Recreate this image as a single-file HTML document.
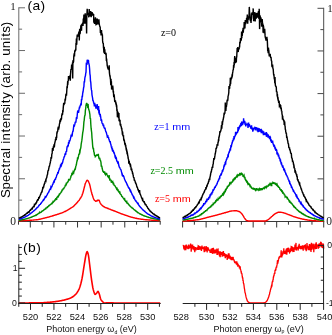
<!DOCTYPE html>
<html>
<head>
<meta charset="utf-8">
<title>Spectral intensity</title>
<style>
html,body{margin:0;padding:0;background:#fff;}
body{width:332px;height:335px;overflow:hidden;font-family:"Liberation Sans",sans-serif;}
svg{display:block;will-change:transform;}
text{white-space:pre;}
</style>
</head>
<body>
<svg width="332" height="335" viewBox="0 0 332 335">
<rect width="332" height="335" fill="#fff"/>
<g id="axes-a">
<line x1="18.80" y1="7.30" x2="18.80" y2="222.00" stroke="#6a6a6a" stroke-width="1"/>
<line x1="323.70" y1="7.80" x2="323.70" y2="222.00" stroke="#4a4a4a" stroke-width="1"/>
<line x1="18.80" y1="221.50" x2="25.00" y2="221.50" stroke="#6a6a6a" stroke-width="1"/>
<line x1="323.70" y1="221.50" x2="317.50" y2="221.50" stroke="#4a4a4a" stroke-width="1"/>
<line x1="18.80" y1="200.13" x2="22.10" y2="200.13" stroke="#6a6a6a" stroke-width="1"/>
<line x1="323.70" y1="200.18" x2="320.40" y2="200.18" stroke="#4a4a4a" stroke-width="1"/>
<line x1="18.80" y1="178.76" x2="25.00" y2="178.76" stroke="#6a6a6a" stroke-width="1"/>
<line x1="323.70" y1="178.86" x2="317.50" y2="178.86" stroke="#4a4a4a" stroke-width="1"/>
<line x1="18.80" y1="157.39" x2="22.10" y2="157.39" stroke="#6a6a6a" stroke-width="1"/>
<line x1="323.70" y1="157.54" x2="320.40" y2="157.54" stroke="#4a4a4a" stroke-width="1"/>
<line x1="18.80" y1="136.02" x2="25.00" y2="136.02" stroke="#6a6a6a" stroke-width="1"/>
<line x1="323.70" y1="136.22" x2="317.50" y2="136.22" stroke="#4a4a4a" stroke-width="1"/>
<line x1="18.80" y1="114.65" x2="22.10" y2="114.65" stroke="#6a6a6a" stroke-width="1"/>
<line x1="323.70" y1="114.90" x2="320.40" y2="114.90" stroke="#4a4a4a" stroke-width="1"/>
<line x1="18.80" y1="93.28" x2="25.00" y2="93.28" stroke="#6a6a6a" stroke-width="1"/>
<line x1="323.70" y1="93.58" x2="317.50" y2="93.58" stroke="#4a4a4a" stroke-width="1"/>
<line x1="18.80" y1="71.91" x2="22.10" y2="71.91" stroke="#6a6a6a" stroke-width="1"/>
<line x1="323.70" y1="72.26" x2="320.40" y2="72.26" stroke="#4a4a4a" stroke-width="1"/>
<line x1="18.80" y1="50.54" x2="25.00" y2="50.54" stroke="#6a6a6a" stroke-width="1"/>
<line x1="323.70" y1="50.94" x2="317.50" y2="50.94" stroke="#4a4a4a" stroke-width="1"/>
<line x1="18.80" y1="29.17" x2="22.10" y2="29.17" stroke="#6a6a6a" stroke-width="1"/>
<line x1="323.70" y1="29.62" x2="320.40" y2="29.62" stroke="#4a4a4a" stroke-width="1"/>
<line x1="18.80" y1="7.80" x2="25.00" y2="7.80" stroke="#6a6a6a" stroke-width="1"/>
<line x1="323.70" y1="8.30" x2="317.50" y2="8.30" stroke="#4a4a4a" stroke-width="1"/>
<line x1="18.30" y1="221.50" x2="160.70" y2="221.50" stroke="#3a3a3a" stroke-width="1"/>
<line x1="182.10" y1="221.50" x2="324.20" y2="221.50" stroke="#3a3a3a" stroke-width="1"/>
<line x1="18.49" y1="221.50" x2="18.49" y2="224.70" stroke="#333" stroke-width="1"/>
<line x1="30.30" y1="221.50" x2="30.30" y2="227.50" stroke="#333" stroke-width="1"/>
<line x1="42.11" y1="221.50" x2="42.11" y2="224.70" stroke="#333" stroke-width="1"/>
<line x1="53.92" y1="221.50" x2="53.92" y2="227.50" stroke="#333" stroke-width="1"/>
<line x1="65.73" y1="221.50" x2="65.73" y2="224.70" stroke="#333" stroke-width="1"/>
<line x1="77.54" y1="221.50" x2="77.54" y2="227.50" stroke="#333" stroke-width="1"/>
<line x1="89.35" y1="221.50" x2="89.35" y2="224.70" stroke="#333" stroke-width="1"/>
<line x1="101.16" y1="221.50" x2="101.16" y2="227.50" stroke="#333" stroke-width="1"/>
<line x1="112.97" y1="221.50" x2="112.97" y2="224.70" stroke="#333" stroke-width="1"/>
<line x1="124.78" y1="221.50" x2="124.78" y2="227.50" stroke="#333" stroke-width="1"/>
<line x1="136.59" y1="221.50" x2="136.59" y2="224.70" stroke="#333" stroke-width="1"/>
<line x1="148.40" y1="221.50" x2="148.40" y2="227.50" stroke="#333" stroke-width="1"/>
<line x1="160.21" y1="221.50" x2="160.21" y2="224.70" stroke="#333" stroke-width="1"/>
<line x1="182.60" y1="221.50" x2="182.60" y2="227.50" stroke="#333" stroke-width="1"/>
<line x1="194.36" y1="221.50" x2="194.36" y2="224.70" stroke="#333" stroke-width="1"/>
<line x1="206.12" y1="221.50" x2="206.12" y2="227.50" stroke="#333" stroke-width="1"/>
<line x1="217.88" y1="221.50" x2="217.88" y2="224.70" stroke="#333" stroke-width="1"/>
<line x1="229.64" y1="221.50" x2="229.64" y2="227.50" stroke="#333" stroke-width="1"/>
<line x1="241.40" y1="221.50" x2="241.40" y2="224.70" stroke="#333" stroke-width="1"/>
<line x1="253.16" y1="221.50" x2="253.16" y2="227.50" stroke="#333" stroke-width="1"/>
<line x1="264.92" y1="221.50" x2="264.92" y2="224.70" stroke="#333" stroke-width="1"/>
<line x1="276.68" y1="221.50" x2="276.68" y2="227.50" stroke="#333" stroke-width="1"/>
<line x1="288.44" y1="221.50" x2="288.44" y2="224.70" stroke="#333" stroke-width="1"/>
<line x1="300.20" y1="221.50" x2="300.20" y2="227.50" stroke="#333" stroke-width="1"/>
<line x1="311.96" y1="221.50" x2="311.96" y2="224.70" stroke="#333" stroke-width="1"/>
<line x1="323.72" y1="221.50" x2="323.72" y2="227.50" stroke="#333" stroke-width="1"/>
</g>
<g id="curves-a">
<path d="M18.8,220.7 L19.2,220.7 L19.6,220.7 L20.0,220.7 L20.4,220.7 L20.8,220.7 L21.2,220.7 L21.6,220.7 L22.0,220.7 L22.4,220.6 L22.8,220.6 L23.2,220.6 L23.6,220.6 L24.0,220.6 L24.4,220.6 L24.8,220.6 L25.2,220.6 L25.6,220.5 L26.0,220.5 L26.4,220.5 L26.8,220.5 L27.2,220.4 L27.6,220.4 L28.0,220.4 L28.4,220.4 L28.8,220.4 L29.2,220.3 L29.6,220.3 L30.0,220.3 L30.4,220.3 L30.8,220.2 L31.2,220.2 L31.6,220.2 L32.0,220.1 L32.4,220.1 L32.8,220.1 L33.2,220.1 L33.6,220.0 L34.0,220.0 L34.4,219.9 L34.8,219.9 L35.2,219.9 L35.6,219.9 L36.0,219.8 L36.4,219.8 L36.8,219.7 L37.2,219.7 L37.6,219.6 L38.0,219.6 L38.4,219.5 L38.8,219.4 L39.2,219.3 L39.6,219.3 L40.0,219.2 L40.4,219.1 L40.8,219.0 L41.2,218.9 L41.6,218.8 L42.0,218.6 L42.4,218.6 L42.8,218.5 L43.2,218.4 L43.6,218.3 L44.0,218.2 L44.4,218.1 L44.8,218.0 L45.2,217.9 L45.6,217.8 L46.0,217.7 L46.4,217.6 L46.8,217.5 L47.2,217.4 L47.6,217.3 L48.0,217.2 L48.4,217.1 L48.8,217.0 L49.2,216.8 L49.6,216.7 L50.0,216.6 L50.4,216.5 L50.8,216.4 L51.2,216.3 L51.6,216.1 L52.0,216.1 L52.4,216.0 L52.8,215.7 L53.2,215.7 L53.6,215.5 L54.0,215.4 L54.4,215.4 L54.8,215.3 L55.2,215.0 L55.6,214.9 L56.0,214.8 L56.4,214.8 L56.8,214.6 L57.2,214.4 L57.6,214.3 L58.0,214.2 L58.4,214.1 L58.8,213.9 L59.2,213.8 L59.6,213.7 L60.0,213.5 L60.4,213.4 L60.8,213.2 L61.2,213.1 L61.6,213.0 L62.0,212.8 L62.4,212.6 L62.8,212.5 L63.2,212.3 L63.6,212.2 L64.0,212.0 L64.4,211.7 L64.8,211.5 L65.2,211.5 L65.6,211.4 L66.0,210.9 L66.4,210.8 L66.8,210.6 L67.2,210.3 L67.6,210.1 L68.0,209.9 L68.4,209.7 L68.8,209.5 L69.2,209.2 L69.6,209.0 L70.0,208.7 L70.4,208.5 L70.8,208.0 L71.2,207.8 L71.6,207.7 L72.0,207.3 L72.4,207.1 L72.8,206.8 L73.2,206.6 L73.6,206.2 L74.0,205.9 L74.4,205.4 L74.8,205.0 L75.2,204.6 L75.6,204.2 L76.0,203.7 L76.4,203.4 L76.8,203.0 L77.2,202.6 L77.6,202.0 L78.0,201.4 L78.4,201.1 L78.8,200.6 L79.2,200.2 L79.6,199.5 L80.0,198.8 L80.4,198.1 L80.8,197.8 L81.2,196.9 L81.6,196.3 L82.0,195.5 L82.4,194.1 L82.8,193.2 L83.2,191.8 L83.6,190.3 L84.0,188.7 L84.4,187.0 L84.8,185.5 L85.2,183.8 L85.6,183.0 L86.0,182.0 L86.4,181.3 L86.8,180.5 L87.2,180.3 L87.6,180.4 L88.0,180.7 L88.4,181.4 L88.8,182.3 L89.2,183.1 L89.6,184.3 L90.0,185.7 L90.4,187.6 L90.8,189.3 L91.2,191.2 L91.6,192.5 L92.0,194.3 L92.4,195.3 L92.8,196.5 L93.2,197.8 L93.6,198.8 L94.0,199.7 L94.4,200.2 L94.8,200.5 L95.2,200.8 L95.6,201.2 L96.0,201.2 L96.4,201.0 L96.8,200.9 L97.2,200.4 L97.6,200.6 L98.0,200.1 L98.4,200.3 L98.8,200.3 L99.2,200.4 L99.6,201.4 L100.0,202.5 L100.4,203.3 L100.8,203.9 L101.2,204.5 L101.6,204.8 L102.0,205.3 L102.4,205.6 L102.8,206.0 L103.2,206.1 L103.6,206.6 L104.0,206.7 L104.4,206.9 L104.8,207.2 L105.2,207.5 L105.6,207.6 L106.0,207.7 L106.4,207.9 L106.8,208.0 L107.2,208.2 L107.6,208.4 L108.0,208.3 L108.4,208.7 L108.8,208.8 L109.2,209.0 L109.6,209.1 L110.0,209.2 L110.4,209.4 L110.8,209.7 L111.2,209.9 L111.6,210.0 L112.0,210.2 L112.4,210.3 L112.8,210.3 L113.2,210.6 L113.6,210.8 L114.0,210.8 L114.4,211.0 L114.8,211.2 L115.2,211.3 L115.6,211.4 L116.0,211.6 L116.4,211.8 L116.8,211.9 L117.2,212.1 L117.6,212.3 L118.0,212.4 L118.4,212.6 L118.8,212.7 L119.2,212.9 L119.6,213.1 L120.0,213.1 L120.4,213.4 L120.8,213.6 L121.2,213.7 L121.6,213.8 L122.0,214.0 L122.4,214.2 L122.8,214.3 L123.2,214.4 L123.6,214.6 L124.0,214.6 L124.4,214.9 L124.8,215.0 L125.2,215.1 L125.6,215.3 L126.0,215.4 L126.4,215.5 L126.8,215.7 L127.2,215.8 L127.6,215.9 L128.0,216.1 L128.4,216.2 L128.8,216.4 L129.2,216.5 L129.6,216.6 L130.0,216.7 L130.4,216.8 L130.8,217.0 L131.2,217.1 L131.6,217.2 L132.0,217.3 L132.4,217.4 L132.8,217.5 L133.2,217.6 L133.6,217.7 L134.0,217.8 L134.4,217.9 L134.8,218.0 L135.2,218.1 L135.6,218.2 L136.0,218.3 L136.4,218.3 L136.8,218.5 L137.2,218.5 L137.6,218.6 L138.0,218.7 L138.4,218.7 L138.8,218.8 L139.2,218.9 L139.6,218.9 L140.0,219.1 L140.4,219.0 L140.8,219.1 L141.2,219.2 L141.6,219.2 L142.0,219.3 L142.4,219.3 L142.8,219.4 L143.2,219.4 L143.6,219.5 L144.0,219.5 L144.4,219.6 L144.8,219.6 L145.2,219.6 L145.6,219.7 L146.0,219.7 L146.4,219.8 L146.8,219.8 L147.2,219.8 L147.6,219.9 L148.0,219.9 L148.4,219.9 L148.8,220.0 L149.2,220.0 L149.6,220.0 L150.0,220.0 L150.4,220.1 L150.8,220.1 L151.2,220.1 L151.6,220.2 L152.0,220.2 L152.4,220.2 L152.8,220.2 L153.2,220.3 L153.6,220.3 L154.0,220.3 L154.4,220.3 L154.8,220.4 L155.2,220.4 L155.6,220.4 L156.0,220.4 L156.4,220.4 L156.8,220.5 L157.2,220.5 L157.6,220.5 L158.0,220.5 L158.4,220.5 L158.8,220.6 L159.2,220.6 L159.6,220.6 L160.0,220.6 L160.2,220.6" fill="none" stroke="#ff0000" stroke-width="1.42" stroke-linejoin="miter" stroke-miterlimit="3" stroke-linecap="butt" />
<path d="M18.8,220.3 L19.1,220.3 L19.4,220.2 L19.7,220.2 L20.0,220.2 L20.3,220.1 L20.6,220.0 L20.9,220.0 L21.2,219.9 L21.5,219.9 L21.8,219.8 L22.1,219.8 L22.4,219.7 L22.7,219.6 L23.0,219.6 L23.3,219.6 L23.6,219.5 L23.9,219.4 L24.2,219.3 L24.5,219.3 L24.8,219.2 L25.1,219.1 L25.4,219.0 L25.7,218.9 L26.0,218.9 L26.3,218.8 L26.6,218.7 L26.9,218.6 L27.2,218.6 L27.5,218.4 L27.8,218.4 L28.1,218.3 L28.4,218.2 L28.7,218.1 L29.0,218.0 L29.3,217.9 L29.6,217.8 L29.9,217.7 L30.2,217.6 L30.5,217.6 L30.8,217.4 L31.1,217.2 L31.4,217.2 L31.7,217.0 L32.0,216.9 L32.3,216.8 L32.6,216.6 L32.9,216.4 L33.2,216.4 L33.5,216.3 L33.8,216.1 L34.1,216.0 L34.4,215.9 L34.7,215.6 L35.0,215.6 L35.3,215.5 L35.6,215.3 L35.9,215.4 L36.2,215.0 L36.5,215.0 L36.8,214.6 L37.1,214.5 L37.4,214.4 L37.7,214.0 L38.0,213.8 L38.3,213.7 L38.6,213.6 L38.9,213.4 L39.2,213.0 L39.5,212.4 L39.8,212.8 L40.1,212.7 L40.4,212.5 L40.7,212.4 L41.0,212.3 L41.3,211.9 L41.6,211.7 L41.9,211.3 L42.2,211.0 L42.5,211.0 L42.8,210.8 L43.1,210.6 L43.4,210.4 L43.7,210.2 L44.0,210.0 L44.3,209.4 L44.6,209.3 L44.9,209.2 L45.2,209.1 L45.5,208.5 L45.8,208.7 L46.1,208.1 L46.4,207.9 L46.7,207.8 L47.0,207.6 L47.3,207.0 L47.6,207.2 L47.9,206.8 L48.2,206.4 L48.5,206.2 L48.8,205.6 L49.1,205.7 L49.4,205.6 L49.7,205.1 L50.0,205.0 L50.3,204.7 L50.6,204.5 L50.9,204.4 L51.2,203.9 L51.5,203.6 L51.8,203.4 L52.1,203.5 L52.4,202.7 L52.7,202.5 L53.0,201.7 L53.3,202.1 L53.6,201.7 L53.9,201.5 L54.2,200.9 L54.5,200.4 L54.8,200.6 L55.1,200.2 L55.4,199.4 L55.7,198.9 L56.0,199.0 L56.3,198.5 L56.6,200.0 L56.9,197.6 L57.2,197.3 L57.5,197.1 L57.8,196.3 L58.1,196.1 L58.4,196.5 L58.7,195.5 L59.0,194.9 L59.3,194.2 L59.6,194.5 L59.9,194.0 L60.2,193.5 L60.5,193.0 L60.8,192.7 L61.1,192.3 L61.4,191.6 L61.7,191.6 L62.0,190.1 L62.3,190.0 L62.6,190.0 L62.9,189.5 L63.2,188.7 L63.5,188.7 L63.8,188.6 L64.1,187.8 L64.4,187.2 L64.7,187.0 L65.0,186.5 L65.3,185.3 L65.6,185.1 L65.9,185.2 L66.2,183.7 L66.5,183.9 L66.8,183.2 L67.1,182.6 L67.4,182.2 L67.7,182.2 L68.0,181.7 L68.3,181.2 L68.6,179.7 L68.9,179.9 L69.2,179.9 L69.5,179.7 L69.8,180.5 L70.1,178.8 L70.4,178.2 L70.7,177.5 L71.0,176.0 L71.3,175.8 L71.6,174.9 L71.9,173.4 L72.2,173.3 L72.5,175.1 L72.8,172.9 L73.1,171.8 L73.4,172.3 L73.7,172.7 L74.0,171.2 L74.3,170.9 L74.6,169.8 L74.9,169.2 L75.2,169.3 L75.5,168.0 L75.8,166.1 L76.1,165.5 L76.4,164.5 L76.7,162.3 L77.0,161.3 L77.3,160.3 L77.6,157.4 L77.9,159.4 L78.2,157.7 L78.5,156.3 L78.8,154.5 L79.1,153.7 L79.4,154.7 L79.7,151.2 L80.0,151.6 L80.3,149.4 L80.6,148.6 L80.9,147.1 L81.2,144.0 L81.5,142.3 L81.8,140.7 L82.1,138.4 L82.4,135.7 L82.7,132.9 L83.0,131.3 L83.3,129.5 L83.6,126.1 L83.9,121.9 L84.2,120.3 L84.5,117.2 L84.8,115.5 L85.1,115.1 L85.4,110.2 L85.7,108.6 L86.0,105.2 L86.3,104.1 L86.6,102.9 L86.9,105.8 L87.2,104.3 L87.5,103.6 L87.8,108.0 L88.1,104.1 L88.4,108.2 L88.7,109.2 L89.0,110.2 L89.3,110.8 L89.6,112.8 L89.9,114.5 L90.2,119.0 L90.5,118.3 L90.8,124.2 L91.1,128.2 L91.4,130.7 L91.7,132.7 L92.0,138.0 L92.3,140.6 L92.6,145.0 L92.9,147.8 L93.2,148.8 L93.5,148.8 L93.8,151.7 L94.1,152.3 L94.4,154.6 L94.7,155.8 L95.0,155.1 L95.3,156.7 L95.6,156.5 L95.9,156.0 L96.2,154.9 L96.5,155.6 L96.8,154.3 L97.1,155.9 L97.4,154.6 L97.7,155.8 L98.0,155.1 L98.3,153.8 L98.6,156.7 L98.9,157.9 L99.2,159.1 L99.5,157.7 L99.8,158.5 L100.1,160.2 L100.4,160.3 L100.7,161.2 L101.0,162.7 L101.3,166.6 L101.6,165.6 L101.9,166.7 L102.2,168.5 L102.5,169.6 L102.8,171.1 L103.1,171.4 L103.4,171.9 L103.7,171.7 L104.0,172.3 L104.3,172.3 L104.6,172.1 L104.9,174.4 L105.2,173.4 L105.5,174.4 L105.8,173.7 L106.1,174.1 L106.4,174.2 L106.7,173.8 L107.0,174.6 L107.3,175.2 L107.6,176.1 L107.9,176.5 L108.2,177.1 L108.5,177.3 L108.8,177.7 L109.1,175.0 L109.4,177.9 L109.7,179.5 L110.0,179.1 L110.3,179.9 L110.6,179.9 L110.9,180.0 L111.2,181.6 L111.5,181.3 L111.8,182.1 L112.1,182.0 L112.4,182.1 L112.7,181.7 L113.0,183.2 L113.3,182.9 L113.6,183.1 L113.9,185.0 L114.2,185.1 L114.5,185.5 L114.8,185.6 L115.1,186.0 L115.4,186.7 L115.7,187.1 L116.0,187.5 L116.3,188.2 L116.6,187.3 L116.9,189.1 L117.2,188.8 L117.5,189.9 L117.8,190.4 L118.1,190.1 L118.4,191.3 L118.7,191.8 L119.0,191.6 L119.3,192.1 L119.6,192.8 L119.9,192.4 L120.2,193.4 L120.5,194.2 L120.8,194.4 L121.1,194.6 L121.4,195.3 L121.7,196.3 L122.0,196.6 L122.3,196.6 L122.6,196.9 L122.9,197.6 L123.2,198.0 L123.5,198.2 L123.8,198.7 L124.1,199.3 L124.4,199.7 L124.7,199.2 L125.0,200.5 L125.3,200.7 L125.6,201.3 L125.9,201.4 L126.2,201.9 L126.5,202.4 L126.8,201.8 L127.1,203.1 L127.4,203.2 L127.7,203.2 L128.0,203.3 L128.3,204.2 L128.6,204.3 L128.9,204.9 L129.2,205.1 L129.5,205.3 L129.8,205.9 L130.1,206.0 L130.4,206.5 L130.7,206.8 L131.0,207.0 L131.3,207.3 L131.6,207.6 L131.9,207.5 L132.2,208.0 L132.5,208.3 L132.8,208.5 L133.1,208.5 L133.4,208.9 L133.7,209.3 L134.0,209.5 L134.3,209.9 L134.6,209.9 L134.9,210.2 L135.2,210.4 L135.5,210.7 L135.8,211.0 L136.1,211.0 L136.4,211.5 L136.7,211.8 L137.0,212.0 L137.3,212.0 L137.6,212.3 L137.9,212.7 L138.2,212.7 L138.5,212.9 L138.8,213.0 L139.1,213.3 L139.4,213.5 L139.7,213.9 L140.0,213.9 L140.3,214.0 L140.6,214.0 L140.9,214.3 L141.2,214.4 L141.5,214.6 L141.8,214.7 L142.1,215.0 L142.4,215.0 L142.7,215.2 L143.0,215.3 L143.3,215.5 L143.6,215.7 L143.9,215.6 L144.2,215.9 L144.5,215.9 L144.8,216.1 L145.1,216.2 L145.4,216.2 L145.7,216.4 L146.0,216.4 L146.3,216.5 L146.6,216.6 L146.9,216.9 L147.2,216.9 L147.5,217.0 L147.8,217.1 L148.1,217.1 L148.4,217.3 L148.7,217.3 L149.0,217.5 L149.3,217.6 L149.6,217.6 L149.9,217.7 L150.2,217.8 L150.5,218.0 L150.8,217.9 L151.1,218.0 L151.4,218.1 L151.7,218.2 L152.0,218.2 L152.3,218.3 L152.6,218.3 L152.9,218.4 L153.2,218.5 L153.5,218.5 L153.8,218.6 L154.1,218.7 L154.4,218.8 L154.7,218.9 L155.0,218.9 L155.3,219.0 L155.6,219.0 L155.9,219.1 L156.2,219.1 L156.5,219.2 L156.8,219.3 L157.1,219.3 L157.4,219.4 L157.7,219.4 L158.0,219.5 L158.3,219.6 L158.6,219.6 L158.9,219.7 L159.2,219.7 L159.5,219.8 L159.8,219.8 L160.1,219.9 L160.2,219.9" fill="none" stroke="#008a00" stroke-width="1.42" stroke-linejoin="miter" stroke-miterlimit="3" stroke-linecap="butt" />
<path d="M18.8,219.4 L19.1,219.3 L19.4,219.3 L19.7,219.2 L20.0,219.1 L20.3,219.0 L20.6,218.9 L20.9,218.7 L21.2,218.6 L21.5,218.6 L21.8,218.4 L22.1,218.3 L22.4,218.2 L22.7,218.1 L23.0,217.9 L23.3,217.7 L23.6,217.6 L23.9,217.4 L24.2,217.4 L24.5,217.2 L24.8,217.1 L25.1,216.9 L25.4,216.8 L25.7,216.7 L26.0,216.5 L26.3,216.4 L26.6,216.1 L26.9,216.0 L27.2,215.7 L27.5,215.7 L27.8,215.5 L28.1,215.3 L28.4,215.1 L28.7,214.8 L29.0,214.7 L29.3,214.5 L29.6,214.3 L29.9,214.0 L30.2,213.8 L30.5,213.6 L30.8,213.2 L31.1,213.1 L31.4,212.8 L31.7,212.7 L32.0,212.4 L32.3,212.2 L32.6,211.9 L32.9,211.5 L33.2,211.4 L33.5,211.2 L33.8,210.8 L34.1,210.6 L34.4,210.3 L34.7,210.1 L35.0,209.8 L35.3,209.6 L35.6,209.2 L35.9,209.1 L36.2,208.6 L36.5,208.3 L36.8,207.9 L37.1,207.8 L37.4,207.3 L37.7,207.0 L38.0,206.9 L38.3,206.9 L38.6,206.2 L38.9,205.4 L39.2,205.3 L39.5,204.9 L39.8,204.5 L40.1,204.4 L40.4,204.4 L40.7,203.6 L41.0,203.2 L41.3,203.1 L41.6,202.5 L41.9,202.1 L42.2,201.5 L42.5,201.3 L42.8,201.0 L43.1,200.2 L43.4,199.9 L43.7,200.1 L44.0,199.6 L44.3,198.9 L44.6,198.3 L44.9,198.1 L45.2,196.9 L45.5,197.2 L45.8,197.2 L46.1,196.3 L46.4,196.2 L46.7,195.3 L47.0,195.0 L47.3,194.8 L47.6,193.5 L47.9,193.3 L48.2,192.8 L48.5,192.3 L48.8,192.1 L49.1,191.3 L49.4,190.1 L49.7,189.9 L50.0,189.2 L50.3,188.7 L50.6,189.0 L50.9,187.0 L51.2,187.5 L51.5,186.7 L51.8,186.7 L52.1,185.9 L52.4,185.1 L52.7,184.3 L53.0,184.1 L53.3,182.7 L53.6,182.2 L53.9,181.4 L54.2,181.8 L54.5,180.7 L54.8,179.6 L55.1,179.3 L55.4,179.9 L55.7,178.1 L56.0,177.7 L56.3,176.9 L56.6,175.9 L56.9,174.9 L57.2,174.4 L57.5,173.7 L57.8,172.0 L58.1,173.6 L58.4,172.0 L58.7,170.7 L59.0,169.9 L59.3,168.8 L59.6,168.9 L59.9,167.7 L60.2,167.3 L60.5,165.5 L60.8,165.8 L61.1,166.1 L61.4,164.1 L61.7,164.4 L62.0,163.3 L62.3,163.3 L62.6,162.6 L62.9,161.1 L63.2,159.7 L63.5,159.3 L63.8,158.2 L64.1,156.9 L64.4,156.7 L64.7,155.9 L65.0,154.1 L65.3,153.7 L65.6,155.0 L65.9,152.7 L66.2,151.1 L66.5,152.0 L66.8,149.2 L67.1,146.8 L67.4,146.3 L67.7,145.8 L68.0,146.2 L68.3,145.5 L68.6,142.1 L68.9,143.9 L69.2,141.2 L69.5,141.5 L69.8,140.8 L70.1,140.0 L70.4,138.6 L70.7,137.8 L71.0,135.9 L71.3,136.3 L71.6,135.8 L71.9,134.8 L72.2,135.2 L72.5,132.7 L72.8,131.3 L73.1,131.2 L73.4,128.8 L73.7,126.3 L74.0,124.3 L74.3,126.6 L74.6,124.8 L74.9,124.2 L75.2,122.2 L75.5,122.1 L75.8,122.6 L76.1,120.3 L76.4,117.7 L76.7,117.4 L77.0,117.7 L77.3,114.3 L77.6,111.5 L77.9,111.0 L78.2,111.2 L78.5,112.9 L78.8,111.0 L79.1,109.0 L79.4,107.5 L79.7,107.6 L80.0,106.5 L80.3,105.4 L80.6,105.0 L80.9,103.4 L81.2,105.4 L81.5,99.0 L81.8,100.2 L82.1,96.5 L82.4,96.5 L82.7,93.2 L83.0,92.0 L83.3,90.1 L83.6,87.7 L83.9,86.7 L84.2,81.2 L84.5,82.4 L84.8,78.5 L85.1,76.6 L85.4,76.0 L85.7,73.4 L86.0,72.3 L86.3,63.8 L86.6,64.0 L86.9,64.9 L87.2,59.7 L87.5,60.3 L87.8,63.3 L88.1,62.1 L88.4,59.8 L88.7,62.9 L89.0,64.2 L89.3,65.5 L89.6,68.9 L89.9,73.8 L90.2,75.6 L90.5,81.2 L90.8,82.5 L91.1,87.3 L91.4,89.9 L91.7,90.7 L92.0,94.8 L92.3,96.5 L92.6,98.1 L92.9,100.5 L93.2,100.7 L93.5,102.0 L93.8,103.3 L94.1,103.9 L94.4,106.3 L94.7,102.9 L95.0,105.9 L95.3,104.6 L95.6,106.7 L95.9,107.8 L96.2,107.5 L96.5,108.6 L96.8,107.5 L97.1,104.1 L97.4,106.0 L97.7,109.3 L98.0,109.8 L98.3,110.0 L98.6,106.1 L98.9,113.5 L99.2,109.9 L99.5,114.9 L99.8,114.0 L100.1,115.6 L100.4,115.2 L100.7,117.0 L101.0,119.8 L101.3,119.6 L101.6,119.8 L101.9,122.4 L102.2,123.3 L102.5,123.7 L102.8,123.7 L103.1,125.6 L103.4,125.6 L103.7,125.5 L104.0,127.5 L104.3,127.9 L104.6,128.8 L104.9,127.6 L105.2,129.1 L105.5,130.6 L105.8,131.6 L106.1,131.9 L106.4,132.8 L106.7,134.1 L107.0,135.1 L107.3,136.8 L107.6,136.4 L107.9,136.1 L108.2,137.8 L108.5,137.0 L108.8,139.2 L109.1,139.4 L109.4,140.7 L109.7,141.7 L110.0,142.1 L110.3,141.9 L110.6,143.9 L110.9,144.4 L111.2,146.2 L111.5,147.4 L111.8,147.2 L112.1,149.2 L112.4,150.4 L112.7,149.9 L113.0,151.2 L113.3,150.3 L113.6,151.6 L113.9,153.3 L114.2,152.4 L114.5,154.2 L114.8,154.8 L115.1,157.0 L115.4,157.7 L115.7,157.1 L116.0,158.2 L116.3,157.3 L116.6,160.3 L116.9,160.9 L117.2,162.1 L117.5,160.8 L117.8,163.2 L118.1,163.5 L118.4,163.0 L118.7,165.0 L119.0,166.0 L119.3,167.2 L119.6,167.5 L119.9,167.7 L120.2,168.8 L120.5,169.1 L120.8,169.5 L121.1,170.2 L121.4,171.6 L121.7,172.5 L122.0,174.0 L122.3,173.5 L122.6,176.4 L122.9,175.2 L123.2,176.1 L123.5,176.0 L123.8,176.6 L124.1,177.6 L124.4,178.8 L124.7,179.3 L125.0,180.1 L125.3,180.7 L125.6,181.6 L125.9,181.9 L126.2,182.2 L126.5,183.2 L126.8,183.6 L127.1,184.9 L127.4,184.9 L127.7,185.6 L128.0,186.2 L128.3,187.3 L128.6,187.7 L128.9,188.2 L129.2,188.1 L129.5,188.6 L129.8,189.8 L130.1,190.5 L130.4,191.3 L130.7,190.9 L131.0,191.9 L131.3,192.1 L131.6,193.0 L131.9,193.7 L132.2,194.7 L132.5,194.9 L132.8,195.4 L133.1,196.0 L133.4,197.0 L133.7,197.8 L134.0,197.4 L134.3,198.3 L134.6,198.8 L134.9,199.6 L135.2,200.0 L135.5,200.7 L135.8,200.7 L136.1,201.3 L136.4,201.7 L136.7,202.0 L137.0,202.6 L137.3,202.8 L137.6,203.8 L137.9,203.9 L138.2,203.6 L138.5,204.5 L138.8,205.3 L139.1,205.4 L139.4,206.0 L139.7,206.3 L140.0,206.8 L140.3,207.1 L140.6,207.4 L140.9,207.7 L141.2,207.9 L141.5,208.4 L141.8,208.7 L142.1,208.9 L142.4,209.3 L142.7,209.5 L143.0,210.1 L143.3,210.1 L143.6,210.3 L143.9,210.6 L144.2,211.0 L144.5,211.3 L144.8,211.3 L145.1,211.8 L145.4,212.0 L145.7,212.2 L146.0,212.6 L146.3,212.8 L146.6,212.9 L146.9,213.2 L147.2,213.5 L147.5,213.9 L147.8,213.9 L148.1,214.0 L148.4,214.3 L148.7,214.4 L149.0,214.5 L149.3,214.7 L149.6,215.0 L149.9,215.1 L150.2,215.4 L150.5,215.4 L150.8,215.7 L151.1,215.8 L151.4,216.0 L151.7,216.1 L152.0,216.2 L152.3,216.4 L152.6,216.5 L152.9,216.7 L153.2,216.9 L153.5,216.9 L153.8,217.0 L154.1,217.2 L154.4,217.4 L154.7,217.5 L155.0,217.5 L155.3,217.6 L155.6,217.7 L155.9,217.8 L156.2,217.9 L156.5,218.0 L156.8,218.1 L157.1,218.2 L157.4,218.3 L157.7,218.5 L158.0,218.5 L158.3,218.6 L158.6,218.6 L158.9,218.7 L159.2,218.8 L159.5,219.0 L159.8,219.0 L160.1,219.0 L160.2,219.0" fill="none" stroke="#0000ff" stroke-width="1.42" stroke-linejoin="miter" stroke-miterlimit="3" stroke-linecap="butt" />
<path d="M18.8,218.3 L19.0,218.2 L19.2,218.1 L19.5,217.9 L19.7,217.9 L19.9,217.9 L20.1,217.7 L20.3,217.6 L20.6,217.6 L20.8,217.3 L21.0,217.4 L21.2,217.2 L21.4,217.1 L21.7,217.1 L21.9,216.8 L22.1,216.7 L22.3,216.5 L22.5,216.4 L22.8,216.1 L23.0,216.1 L23.2,216.1 L23.4,215.9 L23.6,215.7 L23.9,215.6 L24.1,215.5 L24.3,215.3 L24.5,215.2 L24.7,214.9 L25.0,215.1 L25.2,214.6 L25.4,214.6 L25.6,214.3 L25.8,214.0 L26.1,213.9 L26.3,213.7 L26.5,213.6 L26.7,213.4 L26.9,213.3 L27.2,212.9 L27.4,213.0 L27.6,212.6 L27.8,212.7 L28.0,212.5 L28.3,212.1 L28.5,212.2 L28.7,211.9 L28.9,211.8 L29.1,212.1 L29.4,211.3 L29.6,211.1 L29.8,210.5 L30.0,210.4 L30.2,210.2 L30.5,210.2 L30.7,209.7 L30.9,209.7 L31.1,209.5 L31.3,209.0 L31.6,208.8 L31.8,208.8 L32.0,208.2 L32.2,207.9 L32.4,208.4 L32.7,207.7 L32.9,207.4 L33.1,207.1 L33.3,206.7 L33.5,206.5 L33.8,206.2 L34.0,206.0 L34.2,206.2 L34.4,204.8 L34.6,205.0 L34.9,204.8 L35.1,204.2 L35.3,204.2 L35.5,204.0 L35.7,203.3 L36.0,203.5 L36.2,202.9 L36.4,202.9 L36.6,202.5 L36.8,201.8 L37.1,200.3 L37.3,201.1 L37.5,200.4 L37.7,199.1 L37.9,199.8 L38.2,199.9 L38.4,199.1 L38.6,198.6 L38.8,197.1 L39.0,197.7 L39.3,197.1 L39.5,197.3 L39.7,196.4 L39.9,196.0 L40.1,195.5 L40.4,194.8 L40.6,194.6 L40.8,194.0 L41.0,193.1 L41.2,193.0 L41.5,192.5 L41.7,192.4 L41.9,191.4 L42.1,191.4 L42.3,189.9 L42.6,189.4 L42.8,187.1 L43.0,188.7 L43.2,187.3 L43.4,186.8 L43.7,186.9 L43.9,185.5 L44.1,184.6 L44.3,184.6 L44.5,183.4 L44.8,183.4 L45.0,181.9 L45.2,181.7 L45.4,181.3 L45.6,180.5 L45.9,180.9 L46.1,179.1 L46.3,178.4 L46.5,178.1 L46.7,177.8 L47.0,176.1 L47.2,175.0 L47.4,174.6 L47.6,174.1 L47.8,171.9 L48.1,170.6 L48.3,170.6 L48.5,170.3 L48.7,168.7 L48.9,168.1 L49.2,166.0 L49.4,166.5 L49.6,165.4 L49.8,164.7 L50.0,163.5 L50.3,162.8 L50.5,160.8 L50.7,161.2 L50.9,158.5 L51.1,157.2 L51.4,158.6 L51.6,157.2 L51.8,153.9 L52.0,154.5 L52.2,152.4 L52.5,148.0 L52.7,150.8 L52.9,150.1 L53.1,150.6 L53.3,147.2 L53.6,147.3 L53.8,146.9 L54.0,144.3 L54.2,147.3 L54.4,146.6 L54.7,143.1 L54.9,142.9 L55.1,141.4 L55.3,141.1 L55.5,139.0 L55.8,139.5 L56.0,136.8 L56.2,140.3 L56.4,137.4 L56.6,138.3 L56.9,132.3 L57.1,133.5 L57.3,131.1 L57.5,131.4 L57.7,131.3 L58.0,128.2 L58.2,127.4 L58.4,126.6 L58.6,128.2 L58.8,128.5 L59.1,127.2 L59.3,125.1 L59.5,123.7 L59.7,123.6 L59.9,121.2 L60.2,119.7 L60.4,122.3 L60.6,120.0 L60.8,119.6 L61.0,118.0 L61.3,119.2 L61.5,118.8 L61.7,115.2 L61.9,115.0 L62.1,113.3 L62.4,115.1 L62.6,113.8 L62.8,110.0 L63.0,112.2 L63.2,108.4 L63.5,105.1 L63.7,102.9 L63.9,105.1 L64.1,104.6 L64.3,102.7 L64.6,103.9 L64.8,103.2 L65.0,100.0 L65.2,100.2 L65.4,100.1 L65.7,96.7 L65.9,94.5 L66.1,94.3 L66.3,93.8 L66.5,95.6 L66.8,90.3 L67.0,86.3 L67.2,88.1 L67.4,86.0 L67.6,82.8 L67.9,83.2 L68.1,80.9 L68.3,81.3 L68.5,76.8 L68.7,76.8 L69.0,78.2 L69.2,77.2 L69.4,79.3 L69.6,77.1 L69.8,75.7 L70.1,78.3 L70.3,80.7 L70.5,74.1 L70.7,72.2 L70.9,69.5 L71.2,69.4 L71.4,68.7 L71.6,65.2 L71.8,65.2 L72.0,67.6 L72.3,69.0 L72.5,62.6 L72.7,78.6 L72.9,60.2 L73.1,63.0 L73.4,62.3 L73.6,61.4 L73.8,56.2 L74.0,55.1 L74.2,53.4 L74.5,56.5 L74.7,51.7 L74.9,51.0 L75.1,50.3 L75.3,51.4 L75.6,48.9 L75.8,50.5 L76.0,43.0 L76.2,44.9 L76.4,38.5 L76.7,44.8 L76.9,39.4 L77.1,36.0 L77.3,34.5 L77.5,36.7 L77.8,36.3 L78.0,35.2 L78.2,34.6 L78.4,33.9 L78.6,32.9 L78.9,32.3 L79.1,32.5 L79.3,40.5 L79.5,31.8 L79.7,28.9 L80.0,34.2 L80.2,33.0 L80.4,29.7 L80.6,30.9 L80.8,26.2 L81.1,25.4 L81.3,25.2 L81.5,30.6 L81.7,25.7 L81.9,25.1 L82.2,25.9 L82.4,24.0 L82.6,24.6 L82.8,22.6 L83.0,26.0 L83.3,18.5 L83.5,23.5 L83.7,20.4 L83.9,14.6 L84.1,20.6 L84.4,23.6 L84.6,20.8 L84.8,18.6 L85.0,23.6 L85.2,13.3 L85.5,19.7 L85.7,20.0 L85.9,16.1 L86.1,19.5 L86.3,16.9 L86.6,33.5 L86.8,14.2 L87.0,13.0 L87.2,8.9 L87.4,13.8 L87.7,14.2 L87.9,13.9 L88.1,12.8 L88.3,15.5 L88.5,14.7 L88.8,17.3 L89.0,14.0 L89.2,9.1 L89.4,14.0 L89.6,11.2 L89.9,16.4 L90.1,12.3 L90.3,13.8 L90.5,14.6 L90.7,11.1 L91.0,13.9 L91.2,17.1 L91.4,13.3 L91.6,14.1 L91.8,14.5 L92.1,12.2 L92.3,13.7 L92.5,15.8 L92.7,13.1 L92.9,14.6 L93.2,15.5 L93.4,14.8 L93.6,14.1 L93.8,22.7 L94.0,21.3 L94.3,19.3 L94.5,23.4 L94.7,23.4 L94.9,22.7 L95.1,20.1 L95.4,17.4 L95.6,19.0 L95.8,20.8 L96.0,24.6 L96.2,24.5 L96.5,19.5 L96.7,18.6 L96.9,22.2 L97.1,24.4 L97.3,18.6 L97.6,22.4 L97.8,22.6 L98.0,23.0 L98.2,23.8 L98.4,23.7 L98.7,23.7 L98.9,19.4 L99.1,22.2 L99.3,24.3 L99.5,25.2 L99.8,26.4 L100.0,26.7 L100.2,27.4 L100.4,33.0 L100.6,30.3 L100.9,32.7 L101.1,35.4 L101.3,32.6 L101.5,30.1 L101.7,33.0 L102.0,33.7 L102.2,34.9 L102.4,35.0 L102.6,40.4 L102.8,42.5 L103.1,43.3 L103.3,43.0 L103.5,47.7 L103.7,48.8 L103.9,52.6 L104.2,46.9 L104.4,49.4 L104.6,53.9 L104.8,49.3 L105.0,53.0 L105.3,53.2 L105.5,54.1 L105.7,52.6 L105.9,55.0 L106.1,53.4 L106.4,60.9 L106.6,58.5 L106.8,61.6 L107.0,62.7 L107.2,65.5 L107.5,66.5 L107.7,68.2 L107.9,67.3 L108.1,69.5 L108.3,68.4 L108.6,69.0 L108.8,69.4 L109.0,70.1 L109.2,65.2 L109.4,72.4 L109.7,75.2 L109.9,76.1 L110.1,76.0 L110.3,78.6 L110.5,79.4 L110.8,85.1 L111.0,78.9 L111.2,83.3 L111.4,81.3 L111.6,89.6 L111.9,85.6 L112.1,88.1 L112.3,87.9 L112.5,89.7 L112.7,85.6 L113.0,88.6 L113.2,92.5 L113.4,90.9 L113.6,95.2 L113.8,97.2 L114.1,94.4 L114.3,96.0 L114.5,98.3 L114.7,101.4 L114.9,101.6 L115.2,101.9 L115.4,100.3 L115.6,102.3 L115.8,103.4 L116.0,103.2 L116.3,105.3 L116.5,105.0 L116.7,105.8 L116.9,110.9 L117.1,109.2 L117.4,117.2 L117.6,111.4 L117.8,113.3 L118.0,112.1 L118.2,114.6 L118.5,118.1 L118.7,116.9 L118.9,113.0 L119.1,121.2 L119.3,118.9 L119.6,119.8 L119.8,121.7 L120.0,120.1 L120.2,125.0 L120.4,125.2 L120.7,123.9 L120.9,126.0 L121.1,126.6 L121.3,127.1 L121.5,128.5 L121.8,128.5 L122.0,130.8 L122.2,131.4 L122.4,134.8 L122.6,131.5 L122.9,135.6 L123.1,136.0 L123.3,136.1 L123.5,136.0 L123.7,139.9 L124.0,140.5 L124.2,140.1 L124.4,140.7 L124.6,142.3 L124.8,144.6 L125.1,142.8 L125.3,144.1 L125.5,146.4 L125.7,144.9 L125.9,147.2 L126.2,149.3 L126.4,149.2 L126.6,150.7 L126.8,150.6 L127.0,153.0 L127.3,152.7 L127.5,153.9 L127.7,155.5 L127.9,156.0 L128.1,158.0 L128.4,159.1 L128.6,159.7 L128.8,163.6 L129.0,161.4 L129.2,160.9 L129.5,163.5 L129.7,164.0 L129.9,163.4 L130.1,164.0 L130.3,165.7 L130.6,165.3 L130.8,166.4 L131.0,167.1 L131.2,170.2 L131.4,169.2 L131.7,168.5 L131.9,171.0 L132.1,171.3 L132.3,171.4 L132.5,173.2 L132.8,173.2 L133.0,174.8 L133.2,175.2 L133.4,176.9 L133.6,177.4 L133.9,177.5 L134.1,178.7 L134.3,180.2 L134.5,180.3 L134.7,179.8 L135.0,181.0 L135.2,181.6 L135.4,182.6 L135.6,182.6 L135.8,183.6 L136.1,183.8 L136.3,184.4 L136.5,185.0 L136.7,186.0 L136.9,186.8 L137.2,187.4 L137.4,187.5 L137.6,188.1 L137.8,189.1 L138.0,189.8 L138.3,189.8 L138.5,190.6 L138.7,191.2 L138.9,192.2 L139.1,191.3 L139.4,193.0 L139.6,190.0 L139.8,192.8 L140.0,193.9 L140.2,194.0 L140.5,194.8 L140.7,195.3 L140.9,195.7 L141.1,196.1 L141.3,196.9 L141.6,197.7 L141.8,198.2 L142.0,198.5 L142.2,198.8 L142.4,199.6 L142.7,199.1 L142.9,200.1 L143.1,200.7 L143.3,201.1 L143.5,201.5 L143.8,201.8 L144.0,202.1 L144.2,202.4 L144.4,202.2 L144.6,203.1 L144.9,203.4 L145.1,204.2 L145.3,204.1 L145.5,204.4 L145.7,204.8 L146.0,204.8 L146.2,205.3 L146.4,205.7 L146.6,206.0 L146.8,206.4 L147.1,206.5 L147.3,206.9 L147.5,207.5 L147.7,208.1 L147.9,208.1 L148.2,208.4 L148.4,208.7 L148.6,209.2 L148.8,209.3 L149.0,209.8 L149.3,210.0 L149.5,210.3 L149.7,210.4 L149.9,210.8 L150.1,211.2 L150.4,211.2 L150.6,211.4 L150.8,211.4 L151.0,211.9 L151.2,212.0 L151.5,212.3 L151.7,212.4 L151.9,212.5 L152.1,212.7 L152.3,212.9 L152.6,213.4 L152.8,213.5 L153.0,213.6 L153.2,213.8 L153.4,214.0 L153.7,214.1 L153.9,214.3 L154.1,214.6 L154.3,214.4 L154.5,214.7 L154.8,214.8 L155.0,215.0 L155.2,215.0 L155.4,215.2 L155.6,215.5 L155.9,215.5 L156.1,215.8 L156.3,215.8 L156.5,216.0 L156.7,216.0 L157.0,216.2 L157.2,216.3 L157.4,216.6 L157.6,216.5 L157.8,216.8 L158.1,216.8 L158.3,217.0 L158.5,217.2 L158.7,217.2 L158.9,217.3 L159.2,217.5 L159.4,217.6 L159.6,217.7 L159.8,217.9 L160.0,217.9 L160.2,217.9" fill="none" stroke="#000000" stroke-width="1.42" stroke-linejoin="miter" stroke-miterlimit="3" stroke-linecap="butt" />
<path d="M182.6,221.0 L183.0,221.0 L183.4,221.0 L183.8,221.0 L184.2,221.0 L184.6,221.0 L185.0,221.0 L185.4,220.9 L185.8,220.9 L186.2,220.9 L186.6,220.9 L187.0,220.9 L187.4,220.8 L187.8,220.8 L188.2,220.8 L188.6,220.8 L189.0,220.7 L189.4,220.7 L189.8,220.7 L190.2,220.6 L190.6,220.6 L191.0,220.5 L191.4,220.5 L191.8,220.5 L192.2,220.4 L192.6,220.4 L193.0,220.3 L193.4,220.3 L193.8,220.2 L194.2,220.2 L194.6,220.1 L195.0,220.1 L195.4,220.0 L195.8,220.0 L196.2,219.9 L196.6,219.9 L197.0,219.8 L197.4,219.8 L197.8,219.7 L198.2,219.7 L198.6,219.6 L199.0,219.6 L199.4,219.5 L199.8,219.4 L200.2,219.3 L200.6,219.2 L201.0,219.1 L201.4,219.0 L201.8,218.9 L202.2,218.8 L202.6,218.7 L203.0,218.6 L203.4,218.5 L203.8,218.4 L204.2,218.3 L204.6,218.2 L205.0,218.1 L205.4,218.0 L205.8,217.8 L206.2,217.7 L206.6,217.6 L207.0,217.5 L207.4,217.4 L207.8,217.3 L208.2,217.2 L208.6,217.1 L209.0,217.0 L209.4,216.9 L209.8,216.8 L210.2,216.7 L210.6,216.6 L211.0,216.5 L211.4,216.4 L211.8,216.3 L212.2,216.2 L212.6,216.1 L213.0,216.0 L213.4,215.9 L213.8,215.8 L214.2,215.7 L214.6,215.6 L215.0,215.5 L215.4,215.4 L215.8,215.3 L216.2,215.2 L216.6,215.1 L217.0,215.0 L217.4,214.9 L217.8,214.7 L218.2,214.6 L218.6,214.5 L219.0,214.4 L219.4,214.3 L219.8,214.2 L220.2,214.1 L220.6,214.0 L221.0,213.8 L221.4,213.7 L221.8,213.6 L222.2,213.5 L222.6,213.4 L223.0,213.3 L223.4,213.2 L223.8,213.1 L224.2,212.9 L224.6,212.8 L225.0,212.7 L225.4,212.7 L225.8,212.5 L226.2,212.4 L226.6,212.3 L227.0,212.2 L227.4,212.1 L227.8,211.9 L228.2,211.8 L228.6,211.7 L229.0,211.6 L229.4,211.4 L229.8,211.3 L230.2,211.2 L230.6,211.1 L231.0,211.0 L231.4,211.0 L231.8,211.0 L232.2,210.9 L232.6,210.9 L233.0,210.9 L233.4,210.9 L233.8,210.8 L234.2,210.8 L234.6,210.8 L235.0,210.8 L235.4,210.8 L235.8,210.8 L236.2,210.8 L236.6,210.8 L237.0,210.9 L237.4,211.0 L237.8,211.1 L238.2,211.2 L238.6,211.3 L239.0,211.5 L239.4,211.7 L239.8,211.9 L240.2,212.2 L240.6,212.6 L241.0,213.0 L241.4,213.3 L241.8,213.8 L242.2,214.3 L242.6,214.9 L243.0,215.5 L243.4,216.2 L243.8,216.9 L244.2,217.6 L244.6,218.2 L245.0,218.7 L245.4,219.2 L245.8,219.7 L246.2,220.1 L246.6,220.4 L247.0,220.6 L247.4,220.7 L247.8,220.8 L248.2,220.9 L248.6,221.0 L249.0,221.0 L249.4,221.0 L249.8,221.0 L250.2,221.0 L250.6,221.0 L251.0,221.0 L251.4,221.0 L251.8,221.0 L252.2,221.0 L252.6,221.0 L253.0,221.0 L253.4,221.0 L253.8,221.0 L254.2,221.0 L254.6,221.0 L255.0,221.0 L255.4,221.0 L255.8,221.0 L256.2,221.0 L256.6,221.0 L257.0,221.0 L257.4,221.0 L257.8,221.0 L258.2,221.0 L258.6,221.0 L259.0,221.0 L259.4,221.0 L259.8,221.0 L260.2,221.0 L260.6,221.0 L261.0,221.0 L261.4,221.0 L261.8,221.0 L262.2,221.0 L262.6,221.0 L263.0,221.0 L263.4,221.0 L263.8,221.0 L264.2,221.0 L264.6,221.0 L265.0,221.0 L265.4,221.0 L265.8,220.9 L266.2,220.7 L266.6,220.5 L267.0,220.3 L267.4,220.0 L267.8,219.8 L268.2,219.5 L268.6,219.3 L269.0,219.0 L269.4,218.6 L269.8,218.3 L270.2,217.9 L270.6,217.6 L271.0,217.2 L271.4,216.8 L271.8,216.5 L272.2,216.2 L272.6,215.8 L273.0,215.4 L273.4,215.1 L273.8,214.7 L274.2,214.4 L274.6,214.1 L275.0,213.8 L275.4,213.6 L275.8,213.4 L276.2,213.2 L276.6,213.0 L277.0,212.8 L277.4,212.6 L277.8,212.4 L278.2,212.3 L278.6,212.2 L279.0,212.2 L279.4,212.2 L279.8,212.2 L280.2,212.3 L280.6,212.3 L281.0,212.3 L281.4,212.4 L281.8,212.4 L282.2,212.5 L282.6,212.6 L283.0,212.6 L283.4,212.7 L283.8,212.8 L284.2,213.0 L284.6,213.1 L285.0,213.2 L285.4,213.3 L285.8,213.5 L286.2,213.7 L286.6,213.8 L287.0,214.0 L287.4,214.2 L287.8,214.3 L288.2,214.5 L288.6,214.6 L289.0,214.7 L289.4,214.9 L289.8,215.1 L290.2,215.2 L290.6,215.4 L291.0,215.5 L291.4,215.7 L291.8,215.9 L292.2,216.0 L292.6,216.2 L293.0,216.3 L293.4,216.5 L293.8,216.6 L294.2,216.8 L294.6,216.9 L295.0,217.0 L295.4,217.2 L295.8,217.3 L296.2,217.4 L296.6,217.5 L297.0,217.7 L297.4,217.8 L297.8,217.9 L298.2,218.0 L298.6,218.1 L299.0,218.2 L299.4,218.3 L299.8,218.4 L300.2,218.5 L300.6,218.6 L301.0,218.7 L301.4,218.8 L301.8,218.9 L302.2,219.0 L302.6,219.1 L303.0,219.2 L303.4,219.2 L303.8,219.3 L304.2,219.4 L304.6,219.5 L305.0,219.5 L305.4,219.6 L305.8,219.7 L306.2,219.8 L306.6,219.8 L307.0,219.9 L307.4,220.0 L307.8,220.0 L308.2,220.1 L308.6,220.1 L309.0,220.2 L309.4,220.2 L309.8,220.3 L310.2,220.3 L310.6,220.4 L311.0,220.4 L311.4,220.5 L311.8,220.5 L312.2,220.5 L312.6,220.6 L313.0,220.6 L313.4,220.6 L313.8,220.7 L314.2,220.7 L314.6,220.7 L315.0,220.8 L315.4,220.8 L315.8,220.8 L316.2,220.9 L316.6,220.9 L317.0,220.9 L317.4,220.9 L317.8,221.0 L318.2,221.0 L318.6,221.0 L319.0,221.0 L319.4,221.1 L319.8,221.1 L320.2,221.1 L320.6,221.1 L321.0,221.1 L321.4,221.2 L321.8,221.2 L322.2,221.2 L322.6,221.2 L323.0,221.2 L323.4,221.2 L323.7,221.2" fill="none" stroke="#ff0000" stroke-width="1.42" stroke-linejoin="miter" stroke-miterlimit="3" stroke-linecap="butt" />
<path d="M182.6,220.1 L182.8,220.0 L183.0,220.0 L183.3,220.0 L183.5,220.0 L183.7,219.9 L183.9,219.9 L184.1,219.9 L184.4,219.8 L184.6,219.8 L184.8,219.8 L185.0,219.7 L185.2,219.7 L185.5,219.6 L185.7,219.6 L185.9,219.5 L186.1,219.5 L186.3,219.4 L186.6,219.4 L186.8,219.4 L187.0,219.3 L187.2,219.3 L187.4,219.3 L187.7,219.2 L187.9,219.1 L188.1,219.1 L188.3,219.1 L188.5,219.0 L188.8,218.9 L189.0,218.9 L189.2,218.9 L189.4,218.8 L189.6,218.8 L189.9,218.8 L190.1,218.5 L190.3,218.7 L190.5,218.6 L190.7,218.5 L191.0,218.4 L191.2,218.5 L191.4,218.4 L191.6,218.3 L191.8,218.2 L192.1,218.2 L192.3,218.2 L192.5,218.1 L192.7,218.0 L192.9,218.0 L193.2,218.0 L193.4,217.8 L193.6,217.8 L193.8,217.7 L194.0,217.6 L194.3,217.6 L194.5,217.4 L194.7,217.4 L194.9,217.4 L195.1,217.2 L195.4,217.1 L195.6,217.2 L195.8,217.0 L196.0,217.0 L196.2,216.9 L196.5,216.8 L196.7,216.7 L196.9,216.6 L197.1,216.6 L197.3,216.5 L197.6,216.4 L197.8,216.4 L198.0,216.3 L198.2,216.3 L198.4,216.1 L198.7,216.0 L198.9,215.9 L199.1,215.7 L199.3,215.6 L199.5,215.5 L199.8,215.2 L200.0,215.3 L200.2,215.1 L200.4,214.9 L200.6,214.7 L200.9,214.4 L201.1,214.6 L201.3,214.3 L201.5,213.9 L201.7,214.1 L202.0,213.8 L202.2,213.8 L202.4,213.5 L202.6,213.5 L202.8,213.2 L203.1,213.1 L203.3,212.8 L203.5,212.8 L203.7,212.4 L203.9,212.5 L204.2,212.3 L204.4,211.9 L204.6,211.8 L204.8,211.6 L205.0,211.4 L205.3,211.3 L205.5,210.9 L205.7,211.0 L205.9,210.8 L206.1,210.6 L206.4,210.6 L206.6,210.2 L206.8,210.1 L207.0,210.2 L207.2,209.6 L207.5,209.3 L207.7,209.1 L207.9,209.0 L208.1,208.6 L208.3,208.5 L208.6,208.1 L208.8,208.0 L209.0,207.9 L209.2,207.8 L209.4,207.7 L209.7,207.6 L209.9,207.3 L210.1,207.0 L210.3,207.1 L210.5,206.9 L210.8,206.3 L211.0,206.4 L211.2,205.9 L211.4,205.8 L211.6,205.5 L211.9,205.6 L212.1,205.0 L212.3,204.9 L212.5,204.7 L212.7,204.7 L213.0,204.6 L213.2,203.8 L213.4,204.1 L213.6,203.7 L213.8,203.7 L214.1,203.4 L214.3,202.8 L214.5,202.6 L214.7,202.4 L214.9,202.4 L215.2,202.5 L215.4,201.8 L215.6,201.4 L215.8,202.1 L216.0,200.9 L216.3,201.0 L216.5,200.7 L216.7,200.1 L216.9,200.5 L217.1,200.4 L217.4,199.8 L217.6,199.8 L217.8,199.6 L218.0,198.9 L218.2,199.3 L218.5,198.6 L218.7,198.5 L218.9,198.7 L219.1,198.6 L219.3,197.7 L219.6,198.1 L219.8,198.1 L220.0,197.7 L220.2,197.1 L220.4,197.0 L220.7,196.5 L220.9,196.2 L221.1,196.5 L221.3,196.3 L221.5,195.6 L221.8,195.5 L222.0,195.1 L222.2,194.8 L222.4,194.4 L222.6,194.0 L222.9,194.6 L223.1,193.9 L223.3,193.8 L223.5,194.1 L223.7,193.0 L224.0,193.2 L224.2,192.0 L224.4,192.0 L224.6,192.2 L224.8,191.5 L225.1,190.7 L225.3,190.2 L225.5,190.6 L225.7,189.8 L225.9,190.0 L226.2,189.4 L226.4,188.7 L226.6,188.4 L226.8,188.4 L227.0,187.8 L227.3,186.9 L227.5,187.1 L227.7,186.5 L227.9,186.3 L228.1,186.4 L228.4,186.2 L228.6,186.1 L228.8,185.4 L229.0,185.0 L229.2,184.8 L229.5,184.9 L229.7,183.4 L229.9,183.7 L230.1,183.4 L230.3,183.2 L230.6,183.3 L230.8,184.4 L231.0,182.8 L231.2,183.0 L231.4,182.8 L231.7,182.3 L231.9,182.0 L232.1,182.6 L232.3,181.2 L232.5,181.9 L232.8,181.1 L233.0,179.7 L233.2,179.6 L233.4,179.5 L233.6,178.8 L233.9,179.6 L234.1,179.0 L234.3,178.8 L234.5,177.8 L234.7,178.3 L235.0,177.6 L235.2,179.3 L235.4,177.8 L235.6,177.8 L235.8,177.6 L236.1,177.0 L236.3,177.1 L236.5,176.7 L236.7,177.1 L236.9,175.8 L237.2,176.1 L237.4,176.4 L237.6,175.7 L237.8,174.9 L238.0,175.1 L238.3,175.2 L238.5,175.1 L238.7,176.0 L238.9,175.2 L239.1,175.2 L239.4,174.4 L239.6,175.0 L239.8,174.3 L240.0,173.8 L240.2,173.8 L240.5,175.4 L240.7,173.4 L240.9,173.4 L241.1,174.5 L241.3,174.3 L241.6,173.8 L241.8,174.8 L242.0,173.5 L242.2,174.1 L242.4,173.5 L242.7,175.7 L242.9,175.0 L243.1,176.8 L243.3,175.9 L243.5,176.1 L243.8,175.6 L244.0,175.3 L244.2,176.9 L244.4,178.2 L244.6,177.4 L244.9,176.8 L245.1,179.0 L245.3,179.4 L245.5,178.8 L245.7,179.7 L246.0,180.4 L246.2,180.8 L246.4,179.9 L246.6,181.2 L246.8,181.2 L247.1,182.5 L247.3,182.6 L247.5,182.4 L247.7,183.5 L247.9,184.0 L248.2,183.3 L248.4,183.6 L248.6,184.0 L248.8,184.5 L249.0,184.6 L249.3,184.2 L249.5,184.5 L249.7,185.4 L249.9,185.9 L250.1,185.5 L250.4,186.3 L250.6,187.3 L250.8,185.9 L251.0,187.0 L251.2,187.2 L251.5,188.0 L251.7,188.2 L251.9,188.3 L252.1,188.3 L252.3,188.7 L252.6,188.8 L252.8,188.6 L253.0,189.1 L253.2,188.0 L253.4,188.9 L253.7,188.6 L253.9,189.1 L254.1,189.6 L254.3,188.8 L254.5,188.8 L254.8,189.0 L255.0,189.7 L255.2,190.0 L255.4,189.4 L255.6,189.5 L255.9,190.1 L256.1,189.7 L256.3,188.1 L256.5,189.3 L256.7,189.2 L257.0,189.6 L257.2,189.3 L257.4,190.0 L257.6,189.2 L257.8,190.0 L258.1,189.0 L258.3,189.8 L258.5,189.4 L258.7,189.9 L258.9,190.1 L259.2,190.1 L259.4,189.8 L259.6,188.9 L259.8,189.2 L260.0,188.1 L260.3,189.9 L260.5,189.8 L260.7,189.5 L260.9,188.5 L261.1,190.1 L261.4,188.5 L261.6,189.2 L261.8,188.2 L262.0,188.7 L262.2,189.5 L262.5,189.3 L262.7,188.3 L262.9,188.7 L263.1,189.1 L263.3,187.6 L263.6,188.5 L263.8,187.5 L264.0,188.3 L264.2,187.8 L264.4,188.2 L264.7,187.5 L264.9,187.4 L265.1,187.4 L265.3,187.0 L265.5,187.3 L265.8,186.9 L266.0,186.9 L266.2,187.4 L266.4,186.8 L266.6,187.2 L266.9,186.8 L267.1,186.7 L267.3,185.5 L267.5,185.9 L267.7,186.1 L268.0,185.8 L268.2,185.7 L268.4,185.8 L268.6,184.3 L268.8,185.1 L269.1,185.1 L269.3,184.5 L269.5,183.8 L269.7,184.5 L269.9,184.0 L270.2,184.8 L270.4,184.4 L270.6,183.5 L270.8,183.3 L271.0,183.2 L271.3,183.4 L271.5,183.1 L271.7,186.2 L271.9,182.9 L272.1,183.4 L272.4,183.3 L272.6,183.3 L272.8,182.7 L273.0,183.0 L273.2,183.3 L273.5,183.3 L273.7,182.8 L273.9,182.9 L274.1,183.3 L274.3,184.1 L274.6,182.5 L274.8,183.5 L275.0,184.0 L275.2,182.8 L275.4,184.3 L275.7,184.4 L275.9,184.1 L276.1,184.6 L276.3,184.9 L276.5,184.3 L276.8,184.5 L277.0,184.2 L277.2,184.8 L277.4,185.4 L277.6,185.7 L277.9,186.8 L278.1,186.2 L278.3,186.2 L278.5,187.3 L278.7,187.4 L279.0,187.4 L279.2,187.5 L279.4,187.5 L279.6,188.0 L279.8,189.1 L280.1,189.1 L280.3,189.3 L280.5,189.8 L280.7,189.6 L280.9,189.8 L281.2,190.2 L281.4,190.7 L281.6,190.4 L281.8,190.8 L282.0,191.0 L282.3,191.9 L282.5,192.4 L282.7,192.0 L282.9,192.5 L283.1,192.6 L283.4,193.1 L283.6,193.2 L283.8,193.5 L284.0,193.7 L284.2,195.2 L284.5,194.7 L284.7,194.8 L284.9,195.2 L285.1,196.6 L285.3,196.3 L285.6,196.3 L285.8,195.8 L286.0,196.8 L286.2,197.2 L286.4,197.3 L286.7,197.3 L286.9,197.5 L287.1,198.1 L287.3,197.9 L287.5,198.6 L287.8,198.5 L288.0,198.9 L288.2,199.2 L288.4,199.4 L288.6,199.8 L288.9,200.5 L289.1,201.0 L289.3,200.7 L289.5,200.9 L289.7,201.8 L290.0,201.6 L290.2,202.1 L290.4,202.5 L290.6,202.7 L290.8,202.0 L291.1,203.1 L291.3,203.3 L291.5,202.8 L291.7,203.6 L291.9,203.8 L292.2,204.3 L292.4,204.5 L292.6,204.6 L292.8,205.0 L293.0,205.4 L293.3,205.6 L293.5,205.9 L293.7,206.6 L293.9,206.5 L294.1,206.4 L294.4,206.9 L294.6,207.2 L294.8,207.2 L295.0,207.6 L295.2,207.7 L295.5,207.7 L295.7,208.3 L295.9,208.5 L296.1,208.8 L296.3,208.9 L296.6,209.0 L296.8,209.3 L297.0,209.6 L297.2,209.8 L297.4,210.1 L297.7,210.2 L297.9,210.3 L298.1,210.6 L298.3,210.6 L298.5,211.1 L298.8,211.3 L299.0,211.5 L299.2,211.5 L299.4,211.8 L299.6,211.7 L299.9,212.0 L300.1,212.1 L300.3,212.2 L300.5,212.2 L300.7,212.5 L301.0,212.5 L301.2,212.9 L301.4,213.0 L301.6,213.3 L301.8,213.2 L302.1,213.5 L302.3,213.6 L302.5,213.6 L302.7,214.1 L302.9,214.2 L303.2,214.1 L303.4,214.5 L303.6,214.6 L303.8,214.4 L304.0,214.7 L304.3,214.8 L304.5,215.0 L304.7,215.1 L304.9,215.2 L305.1,215.4 L305.4,215.3 L305.6,215.6 L305.8,215.8 L306.0,215.8 L306.2,215.9 L306.5,216.1 L306.7,216.1 L306.9,216.2 L307.1,216.3 L307.3,216.4 L307.6,216.6 L307.8,216.6 L308.0,216.7 L308.2,216.8 L308.4,216.9 L308.7,216.8 L308.9,216.9 L309.1,217.1 L309.3,217.2 L309.5,217.2 L309.8,217.3 L310.0,217.4 L310.2,217.5 L310.4,217.5 L310.6,217.6 L310.9,217.7 L311.1,217.7 L311.3,217.8 L311.5,217.9 L311.7,218.0 L312.0,218.1 L312.2,218.1 L312.4,218.1 L312.6,218.3 L312.8,218.3 L313.1,218.4 L313.3,218.4 L313.5,218.4 L313.7,218.5 L313.9,218.6 L314.2,218.4 L314.4,218.8 L314.6,218.6 L314.8,218.9 L315.0,218.9 L315.3,219.0 L315.5,219.0 L315.7,219.1 L315.9,219.1 L316.1,219.2 L316.4,219.2 L316.6,219.3 L316.8,219.3 L317.0,219.4 L317.2,219.5 L317.5,219.5 L317.7,219.6 L317.9,219.6 L318.1,219.6 L318.3,219.7 L318.6,219.8 L318.8,219.8 L319.0,219.8 L319.2,219.9 L319.4,219.9 L319.7,220.0 L319.9,220.0 L320.1,220.1 L320.3,220.1 L320.5,220.2 L320.8,220.2 L321.0,220.2 L321.2,220.3 L321.4,220.3 L321.6,220.4 L321.9,220.4 L322.1,220.4 L322.3,220.5 L322.5,220.5 L322.7,220.6 L323.0,220.6 L323.2,220.6 L323.4,220.7 L323.6,220.7 L323.7,220.7" fill="none" stroke="#008a00" stroke-width="1.42" stroke-linejoin="miter" stroke-miterlimit="3" stroke-linecap="butt" />
<path d="M182.6,219.0 L182.8,218.9 L183.0,218.9 L183.2,218.8 L183.4,218.8 L183.6,218.7 L183.8,218.6 L184.0,218.6 L184.2,218.5 L184.4,218.4 L184.6,218.4 L184.8,218.3 L185.0,218.2 L185.2,218.1 L185.4,218.1 L185.6,217.9 L185.8,217.9 L186.0,217.8 L186.2,217.8 L186.4,217.7 L186.6,217.6 L186.8,217.6 L187.0,217.6 L187.2,217.4 L187.4,217.3 L187.6,217.1 L187.8,217.0 L188.0,217.2 L188.2,217.1 L188.4,216.9 L188.6,216.8 L188.8,216.7 L189.0,216.5 L189.2,216.4 L189.4,216.4 L189.6,216.4 L189.8,216.2 L190.0,216.2 L190.2,216.1 L190.4,216.0 L190.6,215.8 L190.8,215.7 L191.0,215.3 L191.2,215.6 L191.4,215.5 L191.6,215.3 L191.8,215.3 L192.0,215.0 L192.2,215.0 L192.4,215.0 L192.6,214.8 L192.8,214.7 L193.0,215.0 L193.2,214.6 L193.4,214.4 L193.6,214.4 L193.8,214.3 L194.0,214.1 L194.2,213.9 L194.4,213.8 L194.6,213.7 L194.8,213.3 L195.0,213.5 L195.2,213.1 L195.4,213.1 L195.6,212.9 L195.8,212.9 L196.0,212.9 L196.2,212.6 L196.4,212.4 L196.6,212.3 L196.8,212.1 L197.0,211.5 L197.2,211.6 L197.4,211.6 L197.6,211.7 L197.8,211.3 L198.0,211.2 L198.2,211.1 L198.4,210.3 L198.6,210.8 L198.8,210.6 L199.0,210.3 L199.2,210.2 L199.4,209.6 L199.6,209.7 L199.8,209.2 L200.0,209.3 L200.2,209.0 L200.4,208.7 L200.6,208.7 L200.8,208.1 L201.0,208.2 L201.2,208.4 L201.4,208.0 L201.6,207.4 L201.8,207.4 L202.0,207.0 L202.2,206.8 L202.4,206.3 L202.6,206.3 L202.8,206.0 L203.0,205.4 L203.2,205.5 L203.4,205.4 L203.6,205.0 L203.8,203.0 L204.0,204.4 L204.2,204.2 L204.4,203.7 L204.6,203.5 L204.8,203.4 L205.0,203.5 L205.2,202.7 L205.4,202.6 L205.6,202.2 L205.8,201.2 L206.0,201.7 L206.2,201.2 L206.4,200.6 L206.6,200.7 L206.8,200.1 L207.0,200.6 L207.2,200.1 L207.4,200.5 L207.6,199.1 L207.8,199.8 L208.0,199.1 L208.2,198.4 L208.4,200.0 L208.6,197.9 L208.8,197.5 L209.0,197.5 L209.2,197.3 L209.4,197.3 L209.6,197.5 L209.8,196.2 L210.0,195.5 L210.2,195.8 L210.4,194.9 L210.6,194.6 L210.8,194.7 L211.0,194.8 L211.2,193.7 L211.4,193.3 L211.6,193.3 L211.8,192.9 L212.0,193.2 L212.2,192.4 L212.4,191.6 L212.6,192.6 L212.8,191.2 L213.0,189.2 L213.2,190.8 L213.4,190.4 L213.6,190.0 L213.8,189.5 L214.0,189.2 L214.2,188.9 L214.4,188.8 L214.6,187.1 L214.8,187.7 L215.0,186.7 L215.2,187.8 L215.4,186.0 L215.6,186.4 L215.8,186.0 L216.0,184.9 L216.2,185.3 L216.4,185.2 L216.6,184.9 L216.8,184.3 L217.0,183.6 L217.2,183.6 L217.4,182.6 L217.6,182.0 L217.8,181.7 L218.0,181.2 L218.2,180.7 L218.4,181.5 L218.6,179.3 L218.8,180.0 L219.0,179.4 L219.2,178.2 L219.4,179.2 L219.6,177.3 L219.8,177.5 L220.0,176.0 L220.2,175.7 L220.4,175.4 L220.6,175.5 L220.8,175.8 L221.0,173.6 L221.2,174.4 L221.4,173.2 L221.6,173.6 L221.8,172.9 L222.0,172.2 L222.2,172.0 L222.4,170.2 L222.6,171.3 L222.8,171.1 L223.0,169.6 L223.2,169.6 L223.4,169.2 L223.6,168.8 L223.8,166.8 L224.0,166.0 L224.2,166.3 L224.4,165.8 L224.6,165.7 L224.8,164.1 L225.0,163.7 L225.2,162.4 L225.4,162.0 L225.6,164.8 L225.8,161.4 L226.0,161.3 L226.2,160.4 L226.4,159.6 L226.6,159.3 L226.8,159.2 L227.0,158.0 L227.2,157.6 L227.4,157.6 L227.6,157.6 L227.8,156.3 L228.0,154.4 L228.2,157.2 L228.4,154.5 L228.6,153.4 L228.8,153.1 L229.0,152.2 L229.2,151.8 L229.4,151.9 L229.6,151.4 L229.8,150.4 L230.0,150.7 L230.2,148.2 L230.4,150.7 L230.6,148.7 L230.8,146.8 L231.0,145.0 L231.2,146.3 L231.4,146.4 L231.6,144.8 L231.8,144.4 L232.0,143.0 L232.2,143.0 L232.4,142.3 L232.6,140.2 L232.8,141.7 L233.0,140.5 L233.2,140.2 L233.4,138.3 L233.6,139.7 L233.8,140.1 L234.0,136.1 L234.2,138.9 L234.4,137.4 L234.6,137.1 L234.8,136.4 L235.0,135.9 L235.2,136.4 L235.4,135.0 L235.6,131.8 L235.8,135.1 L236.0,134.3 L236.2,134.7 L236.4,131.8 L236.6,133.8 L236.8,131.7 L237.0,133.3 L237.2,132.4 L237.4,132.9 L237.6,131.8 L237.8,131.4 L238.0,127.1 L238.2,131.0 L238.4,129.9 L238.6,128.5 L238.8,129.7 L239.0,128.1 L239.2,128.3 L239.4,127.7 L239.6,126.2 L239.8,126.9 L240.0,124.7 L240.2,127.1 L240.4,125.5 L240.6,126.2 L240.8,123.9 L241.0,124.0 L241.2,125.0 L241.4,126.1 L241.6,122.2 L241.8,122.1 L242.0,123.5 L242.2,125.1 L242.4,124.1 L242.6,125.2 L242.8,123.4 L243.0,122.2 L243.2,122.9 L243.4,123.4 L243.6,118.3 L243.8,122.7 L244.0,122.4 L244.2,122.1 L244.4,123.0 L244.6,120.9 L244.8,121.7 L245.0,123.6 L245.2,123.4 L245.4,124.2 L245.6,124.8 L245.8,126.3 L246.0,125.0 L246.2,125.4 L246.4,123.8 L246.6,125.1 L246.8,124.4 L247.0,123.8 L247.2,124.2 L247.4,124.4 L247.6,123.8 L247.8,124.8 L248.0,127.9 L248.2,124.3 L248.4,125.4 L248.6,122.5 L248.8,124.7 L249.0,125.8 L249.2,126.5 L249.4,124.1 L249.6,126.2 L249.8,125.6 L250.0,126.5 L250.2,125.6 L250.4,126.7 L250.6,127.3 L250.8,127.1 L251.0,128.8 L251.2,127.3 L251.4,127.8 L251.6,125.2 L251.8,129.2 L252.0,128.4 L252.2,129.7 L252.4,127.5 L252.6,128.8 L252.8,131.6 L253.0,129.1 L253.2,128.9 L253.4,129.2 L253.6,130.5 L253.8,128.4 L254.0,129.4 L254.2,127.9 L254.4,127.4 L254.6,128.3 L254.8,128.4 L255.0,127.4 L255.2,127.5 L255.4,127.9 L255.6,129.1 L255.8,128.8 L256.0,129.4 L256.2,128.8 L256.4,127.9 L256.6,127.3 L256.8,129.6 L257.0,128.9 L257.2,131.2 L257.4,128.4 L257.6,127.8 L257.8,128.6 L258.0,132.2 L258.2,129.4 L258.4,128.9 L258.6,129.2 L258.8,128.3 L259.0,131.9 L259.2,128.5 L259.4,129.5 L259.6,130.2 L259.8,129.0 L260.0,130.0 L260.2,129.5 L260.4,131.1 L260.6,130.4 L260.8,131.8 L261.0,132.1 L261.2,128.9 L261.4,131.9 L261.6,131.7 L261.8,131.4 L262.0,133.2 L262.2,132.5 L262.4,131.4 L262.6,130.7 L262.8,132.4 L263.0,133.4 L263.2,132.2 L263.4,135.3 L263.6,131.2 L263.8,133.6 L264.0,132.6 L264.2,134.7 L264.4,134.1 L264.6,134.2 L264.8,133.3 L265.0,133.0 L265.2,135.3 L265.4,133.4 L265.6,134.3 L265.8,133.6 L266.0,134.6 L266.2,132.0 L266.4,136.8 L266.6,136.2 L266.8,133.1 L267.0,133.6 L267.2,134.8 L267.4,135.7 L267.6,135.7 L267.8,134.2 L268.0,136.3 L268.2,136.0 L268.4,135.8 L268.6,137.8 L268.8,137.0 L269.0,137.4 L269.2,137.1 L269.4,137.0 L269.6,139.3 L269.8,137.1 L270.0,135.8 L270.2,137.6 L270.4,137.0 L270.6,140.1 L270.8,140.7 L271.0,139.0 L271.2,142.1 L271.4,140.0 L271.6,142.0 L271.8,142.7 L272.0,142.0 L272.2,141.8 L272.4,141.6 L272.6,140.7 L272.8,142.3 L273.0,143.5 L273.2,143.9 L273.4,145.0 L273.6,145.2 L273.8,145.5 L274.0,146.9 L274.2,144.6 L274.4,147.2 L274.6,145.7 L274.8,147.5 L275.0,148.7 L275.2,149.4 L275.4,147.9 L275.6,148.2 L275.8,150.2 L276.0,150.3 L276.2,150.4 L276.4,150.1 L276.6,150.0 L276.8,150.6 L277.0,154.4 L277.2,152.3 L277.4,153.1 L277.6,154.7 L277.8,153.0 L278.0,154.0 L278.2,155.9 L278.4,155.9 L278.6,154.7 L278.8,155.8 L279.0,157.0 L279.2,157.5 L279.4,158.9 L279.6,158.2 L279.8,158.4 L280.0,159.5 L280.2,161.5 L280.4,159.4 L280.6,161.1 L280.8,162.1 L281.0,162.3 L281.2,164.5 L281.4,162.4 L281.6,163.6 L281.8,164.8 L282.0,165.3 L282.2,165.9 L282.4,165.4 L282.6,166.5 L282.8,165.5 L283.0,166.6 L283.2,168.0 L283.4,167.5 L283.6,169.0 L283.8,168.7 L284.0,169.2 L284.2,169.1 L284.4,168.5 L284.6,171.5 L284.8,170.2 L285.0,171.9 L285.2,172.2 L285.4,172.3 L285.6,172.7 L285.8,174.0 L286.0,174.3 L286.2,174.2 L286.4,175.1 L286.6,175.3 L286.8,175.5 L287.0,176.0 L287.2,176.5 L287.4,177.4 L287.6,176.9 L287.8,177.8 L288.0,178.2 L288.2,179.2 L288.4,179.9 L288.6,179.4 L288.8,181.4 L289.0,180.1 L289.2,180.8 L289.4,181.1 L289.6,182.7 L289.8,182.5 L290.0,184.0 L290.2,183.5 L290.4,184.6 L290.6,184.0 L290.8,185.2 L291.0,185.3 L291.2,185.7 L291.4,187.4 L291.6,187.5 L291.8,187.2 L292.0,187.2 L292.2,188.3 L292.4,188.6 L292.6,189.2 L292.8,189.5 L293.0,189.7 L293.2,190.5 L293.4,191.4 L293.6,191.4 L293.8,191.1 L294.0,191.6 L294.2,191.9 L294.4,192.5 L294.6,192.7 L294.8,193.0 L295.0,193.6 L295.2,192.8 L295.4,193.9 L295.6,194.4 L295.8,194.5 L296.0,195.5 L296.2,196.5 L296.4,195.9 L296.6,196.4 L296.8,196.0 L297.0,196.8 L297.2,197.2 L297.4,198.0 L297.6,198.0 L297.8,198.5 L298.0,198.8 L298.2,199.0 L298.4,199.1 L298.6,199.6 L298.8,199.7 L299.0,200.7 L299.2,200.5 L299.4,200.9 L299.6,201.1 L299.8,201.5 L300.0,201.9 L300.2,202.4 L300.4,203.0 L300.6,202.6 L300.8,202.9 L301.0,203.3 L301.2,202.9 L301.4,203.6 L301.6,203.9 L301.8,204.6 L302.0,204.9 L302.2,204.8 L302.4,205.2 L302.6,205.6 L302.8,205.5 L303.0,205.9 L303.2,206.4 L303.4,206.3 L303.6,207.0 L303.8,207.2 L304.0,207.3 L304.2,207.4 L304.4,207.4 L304.6,207.9 L304.8,208.2 L305.0,208.5 L305.2,208.8 L305.4,209.0 L305.6,208.9 L305.8,209.1 L306.0,209.2 L306.2,209.9 L306.4,210.0 L306.6,210.0 L306.8,210.1 L307.0,210.5 L307.2,210.7 L307.4,210.9 L307.6,210.8 L307.8,211.1 L308.0,211.4 L308.2,211.4 L308.4,211.7 L308.6,211.9 L308.8,211.9 L309.0,212.1 L309.2,212.2 L309.4,212.4 L309.6,212.5 L309.8,212.5 L310.0,212.8 L310.2,213.0 L310.4,212.9 L310.6,213.3 L310.8,213.3 L311.0,213.4 L311.2,213.6 L311.4,213.8 L311.6,213.9 L311.8,214.0 L312.0,214.2 L312.2,214.1 L312.4,214.3 L312.6,214.6 L312.8,214.8 L313.0,214.9 L313.2,215.1 L313.4,215.3 L313.6,215.1 L313.8,215.3 L314.0,215.5 L314.2,215.6 L314.4,215.6 L314.6,215.7 L314.8,215.9 L315.0,215.9 L315.2,216.0 L315.4,216.1 L315.6,216.2 L315.8,216.4 L316.0,216.5 L316.2,216.6 L316.4,216.6 L316.6,216.8 L316.8,216.8 L317.0,216.9 L317.2,217.0 L317.4,217.1 L317.6,217.2 L317.8,217.3 L318.0,217.3 L318.2,217.4 L318.4,217.5 L318.6,217.6 L318.8,217.7 L319.0,217.8 L319.2,217.8 L319.4,217.8 L319.6,218.1 L319.8,218.0 L320.0,218.1 L320.2,218.3 L320.4,218.2 L320.6,218.4 L320.8,218.4 L321.0,218.5 L321.2,218.6 L321.4,218.7 L321.6,218.7 L321.8,218.7 L322.0,218.8 L322.2,218.8 L322.4,219.0 L322.6,219.0 L322.8,219.0 L323.0,219.0 L323.2,219.0 L323.4,219.1 L323.6,219.1 L323.7,219.2" fill="none" stroke="#0000ff" stroke-width="1.42" stroke-linejoin="miter" stroke-miterlimit="3" stroke-linecap="butt" />
<path d="M182.6,217.8 L182.8,217.7 L183.0,217.5 L183.3,217.5 L183.5,217.4 L183.7,217.2 L183.9,217.1 L184.1,216.9 L184.4,216.9 L184.6,216.5 L184.8,216.6 L185.0,216.5 L185.2,216.4 L185.5,216.2 L185.7,216.5 L185.9,216.2 L186.1,215.7 L186.3,215.8 L186.6,215.6 L186.8,215.5 L187.0,215.2 L187.2,215.2 L187.4,214.9 L187.7,215.0 L187.9,214.8 L188.1,214.7 L188.3,214.3 L188.5,214.1 L188.8,213.9 L189.0,213.9 L189.2,213.9 L189.4,213.7 L189.6,213.6 L189.9,213.2 L190.1,213.1 L190.3,213.0 L190.5,212.9 L190.7,212.6 L191.0,212.3 L191.2,212.3 L191.4,211.5 L191.6,211.6 L191.8,211.2 L192.1,211.2 L192.3,211.1 L192.5,210.9 L192.7,210.4 L192.9,210.0 L193.2,210.2 L193.4,210.2 L193.6,209.6 L193.8,209.5 L194.0,209.3 L194.3,208.7 L194.5,208.3 L194.7,208.5 L194.9,208.3 L195.1,207.7 L195.4,207.5 L195.6,207.1 L195.8,206.9 L196.0,206.1 L196.2,206.6 L196.5,206.1 L196.7,205.8 L196.9,205.4 L197.1,205.4 L197.3,204.8 L197.6,204.6 L197.8,204.2 L198.0,204.1 L198.2,203.5 L198.4,203.4 L198.7,201.8 L198.9,202.3 L199.1,201.9 L199.3,202.2 L199.5,201.1 L199.8,200.9 L200.0,200.2 L200.2,199.6 L200.4,199.5 L200.6,199.5 L200.9,198.9 L201.1,199.2 L201.3,198.1 L201.5,198.2 L201.7,197.4 L202.0,197.1 L202.2,196.0 L202.4,195.7 L202.6,195.2 L202.8,194.6 L203.1,194.2 L203.3,193.4 L203.5,193.3 L203.7,193.0 L203.9,192.7 L204.2,191.8 L204.4,191.8 L204.6,190.8 L204.8,190.5 L205.0,189.9 L205.3,189.7 L205.5,189.6 L205.7,189.9 L205.9,187.1 L206.1,188.9 L206.4,187.4 L206.6,187.0 L206.8,185.8 L207.0,185.4 L207.2,185.6 L207.5,184.4 L207.7,184.1 L207.9,183.2 L208.1,183.1 L208.3,183.1 L208.6,181.2 L208.8,181.9 L209.0,179.2 L209.2,179.9 L209.4,178.7 L209.7,180.2 L209.9,177.7 L210.1,176.8 L210.3,175.8 L210.5,175.0 L210.8,172.6 L211.0,173.2 L211.2,171.1 L211.4,171.6 L211.6,169.7 L211.9,169.3 L212.1,166.9 L212.3,167.9 L212.5,167.2 L212.7,167.2 L213.0,164.0 L213.2,164.8 L213.4,161.8 L213.6,160.6 L213.8,158.0 L214.1,159.4 L214.3,159.2 L214.5,158.7 L214.7,157.0 L214.9,155.9 L215.2,154.0 L215.4,153.3 L215.6,151.9 L215.8,151.3 L216.0,148.6 L216.3,148.5 L216.5,147.6 L216.7,147.6 L216.9,146.1 L217.1,144.9 L217.4,145.0 L217.6,144.8 L217.8,144.9 L218.0,142.5 L218.2,142.4 L218.5,139.3 L218.7,141.1 L218.9,136.7 L219.1,137.0 L219.3,136.0 L219.6,134.6 L219.8,132.4 L220.0,132.6 L220.2,132.3 L220.4,131.5 L220.7,131.1 L220.9,130.0 L221.1,129.7 L221.3,127.3 L221.5,125.1 L221.8,128.6 L222.0,125.3 L222.2,121.4 L222.4,124.9 L222.6,122.3 L222.9,120.8 L223.1,119.5 L223.3,119.2 L223.5,117.6 L223.7,117.3 L224.0,114.3 L224.2,114.6 L224.4,114.1 L224.6,112.8 L224.8,113.7 L225.1,110.5 L225.3,102.6 L225.5,108.4 L225.7,110.2 L225.9,110.2 L226.2,105.7 L226.4,106.9 L226.6,105.2 L226.8,104.4 L227.0,101.1 L227.3,99.6 L227.5,100.6 L227.7,100.6 L227.9,99.1 L228.1,95.9 L228.4,95.2 L228.6,94.0 L228.8,92.4 L229.0,86.1 L229.2,87.4 L229.5,88.8 L229.7,87.2 L229.9,84.1 L230.1,86.1 L230.3,77.8 L230.6,84.3 L230.8,80.2 L231.0,80.0 L231.2,78.7 L231.4,76.7 L231.7,78.1 L231.9,77.8 L232.1,74.3 L232.3,76.6 L232.5,73.7 L232.8,71.9 L233.0,70.5 L233.2,69.7 L233.4,69.2 L233.6,65.0 L233.9,67.6 L234.1,62.0 L234.3,65.1 L234.5,60.1 L234.7,56.0 L235.0,59.4 L235.2,62.6 L235.4,62.5 L235.6,58.0 L235.8,59.6 L236.1,58.0 L236.3,62.5 L236.5,57.2 L236.7,57.5 L236.9,53.3 L237.2,48.1 L237.4,51.2 L237.6,47.9 L237.8,47.3 L238.0,50.6 L238.3,52.0 L238.5,48.3 L238.7,49.9 L238.9,48.7 L239.1,49.1 L239.4,46.5 L239.6,47.5 L239.8,41.8 L240.0,43.0 L240.2,43.5 L240.5,38.1 L240.7,41.0 L240.9,39.9 L241.1,39.3 L241.3,40.4 L241.6,31.5 L241.8,38.2 L242.0,35.1 L242.2,36.0 L242.4,34.0 L242.7,30.5 L242.9,30.2 L243.1,27.7 L243.3,32.7 L243.5,28.0 L243.8,29.5 L244.0,27.2 L244.2,22.0 L244.4,26.5 L244.6,25.3 L244.9,28.5 L245.1,23.7 L245.3,20.1 L245.5,22.0 L245.7,24.1 L246.0,22.1 L246.2,21.2 L246.4,21.3 L246.6,17.8 L246.8,22.3 L247.1,19.3 L247.3,14.6 L247.5,17.8 L247.7,23.7 L247.9,17.9 L248.2,18.6 L248.4,18.9 L248.6,19.0 L248.8,16.3 L249.0,17.2 L249.3,6.9 L249.5,11.0 L249.7,13.2 L249.9,13.8 L250.1,17.4 L250.4,21.3 L250.6,17.9 L250.8,19.0 L251.0,22.9 L251.2,20.2 L251.5,18.2 L251.7,13.4 L251.9,14.0 L252.1,12.3 L252.3,12.8 L252.6,14.9 L252.8,14.3 L253.0,13.9 L253.2,8.4 L253.4,15.9 L253.7,21.2 L253.9,13.7 L254.1,20.3 L254.3,16.9 L254.5,19.3 L254.8,12.0 L255.0,14.1 L255.2,21.5 L255.4,14.0 L255.6,14.0 L255.9,14.9 L256.1,16.6 L256.3,18.7 L256.5,12.9 L256.7,16.0 L257.0,14.6 L257.2,12.7 L257.4,17.7 L257.6,16.4 L257.8,13.1 L258.1,14.4 L258.3,12.7 L258.5,11.0 L258.7,14.7 L258.9,19.0 L259.2,8.7 L259.4,14.9 L259.6,29.1 L259.8,25.7 L260.0,15.4 L260.3,17.0 L260.5,22.0 L260.7,17.1 L260.9,20.1 L261.1,18.2 L261.4,22.7 L261.6,22.1 L261.8,26.8 L262.0,20.6 L262.2,19.0 L262.5,23.4 L262.7,24.8 L262.9,23.6 L263.1,32.7 L263.3,25.5 L263.6,26.8 L263.8,30.5 L264.0,33.1 L264.2,31.0 L264.4,32.7 L264.7,28.8 L264.9,32.2 L265.1,35.9 L265.3,37.3 L265.5,38.1 L265.8,39.0 L266.0,40.6 L266.2,38.7 L266.4,37.6 L266.6,38.4 L266.9,36.8 L267.1,39.5 L267.3,40.2 L267.5,44.6 L267.7,51.2 L268.0,48.6 L268.2,53.1 L268.4,47.7 L268.6,49.2 L268.8,50.1 L269.1,54.6 L269.3,56.4 L269.5,54.9 L269.7,53.8 L269.9,54.7 L270.2,53.8 L270.4,56.7 L270.6,57.1 L270.8,57.8 L271.0,56.7 L271.3,60.3 L271.5,61.0 L271.7,61.1 L271.9,66.6 L272.1,65.2 L272.4,67.3 L272.6,64.6 L272.8,67.5 L273.0,68.8 L273.2,69.0 L273.5,73.3 L273.7,75.4 L273.9,74.1 L274.1,76.6 L274.3,78.9 L274.6,79.3 L274.8,83.3 L275.0,77.1 L275.2,83.4 L275.4,85.3 L275.7,86.5 L275.9,85.9 L276.1,87.0 L276.3,87.1 L276.5,92.2 L276.8,91.4 L277.0,92.1 L277.2,96.5 L277.4,94.0 L277.6,97.3 L277.9,99.0 L278.1,98.7 L278.3,100.4 L278.5,101.1 L278.7,103.0 L279.0,101.3 L279.2,101.6 L279.4,106.2 L279.6,106.0 L279.8,105.3 L280.1,105.1 L280.3,108.1 L280.5,105.8 L280.7,105.8 L280.9,109.3 L281.2,107.6 L281.4,109.9 L281.6,111.7 L281.8,111.1 L282.0,114.2 L282.3,115.1 L282.5,119.6 L282.7,115.9 L282.9,119.6 L283.1,118.8 L283.4,119.1 L283.6,120.7 L283.8,121.1 L284.0,120.0 L284.2,125.0 L284.5,121.4 L284.7,121.9 L284.9,125.8 L285.1,126.2 L285.3,129.3 L285.6,129.9 L285.8,132.7 L286.0,132.1 L286.2,133.9 L286.4,133.4 L286.7,138.0 L286.9,136.4 L287.1,137.5 L287.3,139.1 L287.5,140.1 L287.8,141.2 L288.0,143.1 L288.2,143.5 L288.4,143.7 L288.6,145.1 L288.9,148.2 L289.1,147.8 L289.3,147.9 L289.5,147.4 L289.7,150.1 L290.0,149.3 L290.2,150.8 L290.4,151.2 L290.6,153.0 L290.8,153.1 L291.1,153.4 L291.3,153.5 L291.5,155.6 L291.7,158.5 L291.9,158.0 L292.2,158.7 L292.4,160.4 L292.6,160.1 L292.8,162.3 L293.0,161.4 L293.3,162.3 L293.5,164.6 L293.7,163.9 L293.9,166.7 L294.1,166.5 L294.4,168.7 L294.6,168.1 L294.8,169.0 L295.0,172.6 L295.2,170.5 L295.5,171.9 L295.7,171.9 L295.9,173.7 L296.1,173.9 L296.3,174.0 L296.6,175.4 L296.8,175.2 L297.0,176.6 L297.2,176.6 L297.4,179.6 L297.7,180.1 L297.9,179.1 L298.1,180.9 L298.3,181.0 L298.5,181.8 L298.8,181.9 L299.0,183.5 L299.2,182.5 L299.4,184.7 L299.6,182.3 L299.9,185.5 L300.1,185.6 L300.3,186.2 L300.5,186.6 L300.7,187.3 L301.0,188.2 L301.2,189.4 L301.4,188.7 L301.6,190.1 L301.8,190.5 L302.1,191.0 L302.3,192.0 L302.5,192.5 L302.7,192.6 L302.9,193.2 L303.2,194.2 L303.4,194.4 L303.6,195.2 L303.8,195.1 L304.0,196.2 L304.3,196.3 L304.5,196.5 L304.7,196.9 L304.9,197.4 L305.1,197.8 L305.4,198.2 L305.6,198.9 L305.8,199.5 L306.0,199.5 L306.2,200.7 L306.5,200.3 L306.7,200.9 L306.9,201.6 L307.1,202.1 L307.3,202.1 L307.6,202.5 L307.8,202.5 L308.0,203.2 L308.2,203.6 L308.4,203.6 L308.7,204.1 L308.9,204.9 L309.1,205.0 L309.3,205.3 L309.5,205.7 L309.8,205.8 L310.0,206.1 L310.2,206.3 L310.4,206.5 L310.6,206.8 L310.9,206.8 L311.1,207.3 L311.3,208.0 L311.5,208.1 L311.7,208.4 L312.0,208.5 L312.2,208.9 L312.4,209.1 L312.6,209.4 L312.8,209.9 L313.1,210.2 L313.3,209.9 L313.5,210.3 L313.7,210.5 L313.9,210.7 L314.2,211.0 L314.4,211.2 L314.6,211.4 L314.8,211.9 L315.0,211.7 L315.3,212.6 L315.5,212.5 L315.7,212.5 L315.9,212.7 L316.1,212.9 L316.4,213.2 L316.6,213.5 L316.8,213.7 L317.0,213.8 L317.2,213.8 L317.5,214.0 L317.7,214.3 L317.9,214.4 L318.1,214.6 L318.3,214.7 L318.6,214.8 L318.8,215.0 L319.0,215.1 L319.2,215.2 L319.4,215.5 L319.7,215.5 L319.9,215.8 L320.1,215.9 L320.3,215.9 L320.5,216.2 L320.8,216.3 L321.0,216.3 L321.2,216.5 L321.4,216.8 L321.6,216.8 L321.9,217.0 L322.1,217.0 L322.3,217.2 L322.5,217.2 L322.7,217.4 L323.0,217.5 L323.2,217.6 L323.4,217.7 L323.6,217.7 L323.7,217.8" fill="none" stroke="#000000" stroke-width="1.42" stroke-linejoin="miter" stroke-miterlimit="3" stroke-linecap="butt" />
</g>
<g id="curves-b">
<path d="M18.8,303.0 L19.2,303.0 L19.6,303.0 L20.0,303.0 L20.4,303.0 L20.8,303.0 L21.2,303.0 L21.6,303.0 L22.0,303.0 L22.4,303.0 L22.8,303.0 L23.2,303.0 L23.6,303.0 L24.0,303.0 L24.4,303.0 L24.8,303.0 L25.2,303.0 L25.6,303.0 L26.0,303.0 L26.4,303.0 L26.8,303.0 L27.2,303.0 L27.6,303.0 L28.0,303.0 L28.4,303.0 L28.8,303.0 L29.2,302.9 L29.6,302.9 L30.0,302.9 L30.4,302.9 L30.8,302.9 L31.2,302.9 L31.6,302.9 L32.0,302.9 L32.4,302.9 L32.8,302.9 L33.2,302.9 L33.6,302.9 L34.0,302.9 L34.4,302.9 L34.8,302.9 L35.2,302.9 L35.6,302.9 L36.0,302.9 L36.4,302.9 L36.8,302.9 L37.2,302.8 L37.6,302.8 L38.0,302.8 L38.4,302.8 L38.8,302.8 L39.2,302.8 L39.6,302.8 L40.0,302.8 L40.4,302.8 L40.8,302.8 L41.2,302.8 L41.6,302.8 L42.0,302.7 L42.4,302.7 L42.8,302.7 L43.2,302.7 L43.6,302.7 L44.0,302.6 L44.4,302.6 L44.8,302.6 L45.2,302.6 L45.6,302.5 L46.0,302.5 L46.4,302.5 L46.8,302.5 L47.2,302.4 L47.6,302.4 L48.0,302.4 L48.4,302.3 L48.8,302.3 L49.2,302.3 L49.6,302.2 L50.0,302.2 L50.4,302.1 L50.8,302.1 L51.2,302.1 L51.6,302.0 L52.0,302.0 L52.4,302.0 L52.8,301.9 L53.2,301.9 L53.6,301.8 L54.0,301.8 L54.4,301.7 L54.8,301.7 L55.2,301.6 L55.6,301.6 L56.0,301.5 L56.4,301.5 L56.8,301.4 L57.2,301.4 L57.6,301.3 L58.0,301.2 L58.4,301.2 L58.8,301.1 L59.2,301.0 L59.6,301.0 L60.0,300.9 L60.4,300.8 L60.8,300.8 L61.2,300.7 L61.6,300.6 L62.0,300.5 L62.4,300.4 L62.8,300.3 L63.2,300.2 L63.6,300.2 L64.0,300.1 L64.4,300.0 L64.8,299.9 L65.2,299.8 L65.6,299.6 L66.0,299.5 L66.4,299.4 L66.8,299.3 L67.2,299.2 L67.6,299.1 L68.0,299.0 L68.4,298.8 L68.8,298.7 L69.2,298.6 L69.6,298.4 L70.0,298.2 L70.4,298.1 L70.8,297.9 L71.2,297.7 L71.6,297.5 L72.0,297.3 L72.4,297.0 L72.8,296.8 L73.2,296.5 L73.6,296.2 L74.0,295.9 L74.4,295.5 L74.8,295.2 L75.2,294.8 L75.6,294.4 L76.0,294.0 L76.4,293.5 L76.8,293.0 L77.2,292.4 L77.6,291.8 L78.0,291.1 L78.4,290.4 L78.8,289.6 L79.2,288.8 L79.6,287.7 L80.0,286.5 L80.4,285.2 L80.8,283.8 L81.2,282.2 L81.6,280.5 L82.0,278.7 L82.4,276.5 L82.8,274.1 L83.2,271.5 L83.6,268.9 L84.0,266.3 L84.4,263.9 L84.8,261.5 L85.2,259.0 L85.6,256.6 L86.0,254.7 L86.4,253.2 L86.8,252.0 L87.2,251.6 L87.6,252.3 L88.0,253.5 L88.4,255.1 L88.8,257.6 L89.2,260.8 L89.6,264.1 L90.0,267.3 L90.4,270.6 L90.8,274.0 L91.2,277.2 L91.6,280.1 L92.0,282.7 L92.4,285.2 L92.8,287.5 L93.2,289.4 L93.6,290.8 L94.0,292.1 L94.4,293.3 L94.8,294.1 L95.2,294.4 L95.6,294.2 L96.0,293.8 L96.4,293.4 L96.8,292.9 L97.2,292.3 L97.6,291.7 L98.0,291.4 L98.4,291.8 L98.8,292.7 L99.2,293.7 L99.6,295.0 L100.0,296.7 L100.4,298.3 L100.8,299.3 L101.2,300.0 L101.6,300.6 L102.0,301.1 L102.4,301.5 L102.8,301.9 L103.2,302.3 L103.6,302.7 L104.0,302.9 L104.4,303.0 L104.8,303.0 L105.2,303.0 L105.6,303.0 L106.0,302.9 L106.4,302.9 L106.8,302.9 L107.2,302.9 L107.6,302.9 L108.0,302.9 L108.4,302.9 L108.8,302.9 L109.2,302.9 L109.6,302.9 L110.0,302.9 L110.4,302.9 L110.8,302.9 L111.2,302.9 L111.6,302.9 L112.0,302.9 L112.4,302.9 L112.8,302.9 L113.2,302.9 L113.6,303.0 L114.0,303.0 L114.4,303.0 L114.8,303.0 L115.2,303.0 L115.6,303.0 L116.0,303.0 L116.4,303.0 L116.8,303.0 L117.2,303.0 L117.6,303.0 L118.0,303.0 L118.4,303.0 L118.8,303.0 L119.2,303.0 L119.6,303.0 L120.0,303.0 L120.4,303.0 L120.8,303.0 L121.2,303.0 L121.6,303.0 L122.0,303.0 L122.4,303.0 L122.8,303.0 L123.2,303.0 L123.6,303.0 L124.0,303.0 L124.4,303.0 L124.8,303.0 L125.2,303.0 L125.6,303.0 L126.0,303.0 L126.4,303.0 L126.8,303.0 L127.2,303.0 L127.6,303.0 L128.0,303.0 L128.4,303.0 L128.8,303.0 L129.2,303.0 L129.6,303.0 L130.0,303.0 L130.4,303.0 L130.8,303.0 L131.2,303.0 L131.6,303.0 L132.0,303.0 L132.4,303.0 L132.8,303.0 L133.2,303.0 L133.6,303.0 L134.0,303.0 L134.4,303.0 L134.8,303.0 L135.2,303.0 L135.6,303.0 L136.0,303.0 L136.4,303.0 L136.8,303.0 L137.2,303.0 L137.6,303.0 L138.0,303.0 L138.4,303.0 L138.8,303.0 L139.2,303.0 L139.6,303.0 L140.0,303.0 L140.4,303.0 L140.8,303.0 L141.2,303.0 L141.6,303.0 L142.0,303.0 L142.4,303.0 L142.8,303.0 L143.2,303.0 L143.6,303.0 L144.0,303.0 L144.4,303.0 L144.8,303.0 L145.2,303.0 L145.6,303.0 L146.0,303.0 L146.4,303.0 L146.8,303.0 L147.2,303.0 L147.6,303.0 L148.0,303.0 L148.4,303.0 L148.8,303.0 L149.2,303.0 L149.6,303.0 L150.0,303.0 L150.4,303.0 L150.8,303.0 L151.2,303.0 L151.6,303.0 L152.0,303.0 L152.4,303.0 L152.8,303.0 L153.2,303.0 L153.6,303.0 L154.0,303.0 L154.4,303.0 L154.8,303.0 L155.2,303.0 L155.6,303.0 L156.0,303.0 L156.4,303.0 L156.8,303.0 L157.2,303.0 L157.6,303.0 L158.0,303.0 L158.4,303.0 L158.8,303.0 L159.2,303.0 L159.6,303.0 L160.0,303.0 L160.2,303.0" fill="none" stroke="#ff0000" stroke-width="1.6" stroke-linejoin="round" stroke-miterlimit="3" stroke-linecap="butt" />
<path d="M183.2,245.9 L183.4,245.0 L183.6,246.9 L183.8,248.1 L184.0,249.4 L184.2,247.6 L184.4,245.6 L184.6,246.1 L184.8,248.7 L185.0,250.3 L185.2,248.0 L185.4,245.4 L185.6,245.9 L185.8,250.3 L186.0,247.9 L186.2,244.6 L186.4,247.3 L186.6,245.6 L186.8,246.5 L187.0,246.8 L187.2,246.4 L187.4,248.6 L187.6,247.6 L187.8,246.7 L188.0,248.4 L188.2,249.2 L188.4,244.9 L188.6,247.3 L188.8,244.6 L189.0,247.5 L189.2,245.6 L189.4,247.9 L189.6,247.8 L189.8,247.3 L190.0,246.1 L190.2,247.2 L190.4,246.0 L190.6,243.5 L190.8,248.3 L191.0,246.0 L191.2,251.8 L191.4,249.2 L191.6,244.5 L191.8,248.5 L192.0,246.1 L192.2,248.1 L192.4,248.1 L192.6,244.6 L192.8,247.6 L193.0,247.6 L193.2,249.7 L193.4,246.0 L193.6,249.4 L193.8,246.2 L194.0,247.5 L194.2,246.7 L194.4,250.6 L194.6,249.1 L194.8,252.3 L195.0,249.3 L195.2,249.6 L195.4,249.6 L195.6,247.1 L195.8,248.1 L196.0,250.5 L196.2,247.5 L196.4,248.8 L196.6,248.2 L196.8,249.3 L197.0,247.6 L197.2,248.0 L197.4,248.7 L197.6,248.5 L197.8,246.8 L198.0,249.9 L198.2,246.1 L198.4,246.3 L198.6,246.2 L198.8,250.0 L199.0,247.8 L199.2,246.8 L199.4,246.5 L199.6,249.2 L199.8,246.7 L200.0,246.3 L200.2,249.6 L200.4,246.5 L200.6,248.0 L200.8,248.6 L201.0,247.8 L201.2,248.5 L201.4,250.9 L201.6,247.8 L201.8,246.5 L202.0,245.6 L202.2,248.0 L202.4,248.1 L202.6,249.2 L202.8,248.0 L203.0,248.0 L203.2,247.6 L203.4,248.0 L203.6,249.1 L203.8,248.3 L204.0,249.1 L204.2,252.2 L204.4,249.8 L204.6,246.3 L204.8,252.0 L205.0,249.6 L205.2,247.5 L205.4,250.6 L205.6,249.2 L205.8,248.1 L206.0,248.1 L206.2,246.1 L206.4,249.3 L206.6,251.1 L206.8,248.8 L207.0,250.1 L207.2,252.5 L207.4,247.4 L207.6,249.9 L207.8,249.0 L208.0,247.7 L208.2,247.8 L208.4,249.6 L208.6,250.4 L208.8,248.8 L209.0,249.8 L209.2,251.0 L209.4,250.3 L209.6,251.3 L209.8,250.7 L210.0,250.8 L210.2,253.0 L210.4,251.1 L210.6,250.3 L210.8,251.3 L211.0,248.7 L211.2,249.7 L211.4,251.6 L211.6,251.4 L211.8,253.0 L212.0,250.5 L212.2,248.1 L212.4,253.8 L212.6,252.4 L212.8,249.0 L213.0,253.0 L213.2,250.9 L213.4,247.9 L213.6,250.2 L213.8,250.1 L214.0,253.6 L214.2,249.8 L214.4,250.7 L214.6,250.8 L214.8,250.7 L215.0,249.8 L215.2,252.1 L215.4,253.2 L215.6,252.5 L215.8,250.1 L216.0,249.8 L216.2,251.9 L216.4,250.6 L216.6,250.8 L216.8,249.2 L217.0,255.0 L217.2,253.4 L217.4,250.5 L217.6,254.9 L217.8,254.3 L218.0,248.4 L218.2,251.4 L218.4,251.7 L218.6,253.5 L218.8,252.3 L219.0,252.2 L219.2,252.5 L219.4,255.6 L219.6,256.2 L219.8,252.0 L220.0,251.5 L220.2,257.2 L220.4,251.5 L220.6,252.2 L220.8,253.2 L221.0,254.0 L221.2,254.9 L221.4,254.0 L221.6,252.1 L221.8,254.3 L222.0,254.0 L222.2,256.6 L222.4,253.8 L222.6,251.8 L222.8,252.3 L223.0,256.3 L223.2,253.3 L223.4,251.0 L223.6,253.4 L223.8,254.4 L224.0,256.2 L224.2,253.0 L224.4,255.6 L224.6,255.9 L224.8,253.7 L225.0,254.6 L225.2,257.6 L225.4,257.6 L225.6,256.4 L225.8,255.7 L226.0,257.0 L226.2,255.2 L226.4,255.4 L226.6,254.3 L226.8,255.7 L227.0,255.7 L227.2,260.0 L227.4,255.7 L227.6,258.0 L227.8,258.1 L228.0,256.0 L228.2,258.1 L228.4,253.3 L228.6,256.7 L228.8,258.0 L229.0,253.3 L229.2,255.3 L229.4,258.6 L229.6,256.8 L229.8,255.7 L230.0,256.8 L230.2,256.7 L230.4,258.6 L230.6,258.4 L230.8,257.4 L231.0,257.0 L231.2,258.0 L231.4,260.1 L231.6,259.3 L231.8,259.4 L232.0,258.4 L232.2,257.0 L232.4,258.0 L232.6,260.0 L232.8,259.4 L233.0,257.1 L233.2,257.4 L233.4,260.0 L233.6,259.5 L233.8,259.7 L234.0,259.9 L234.2,261.0 L234.4,261.5 L234.6,262.3 L234.8,262.4 L235.0,263.2 L235.2,262.7 L235.4,261.4 L235.6,262.0 L235.8,262.9 L236.0,261.8 L236.2,263.5 L236.4,264.4 L236.6,262.2 L236.8,261.3 L237.0,265.2 L237.2,263.9 L237.4,265.0 L237.6,262.8 L237.8,266.7 L238.0,265.8 L238.2,265.0 L238.4,265.0 L238.6,265.8 L238.8,265.8 L239.0,266.0 L239.2,265.4 L239.4,268.4 L239.6,267.4 L239.8,267.9 L240.0,268.4 L240.2,266.3 L240.4,270.0 L240.6,269.4 L240.8,270.4 L241.0,271.4 L241.2,271.1 L241.4,273.6 L241.6,272.9 L241.8,273.5 L242.0,274.4 L242.2,276.2 L242.4,277.6 L242.6,277.5 L242.8,277.9 L243.0,280.9 L243.2,280.4 L243.4,283.0 L243.6,283.3 L243.8,284.0 L244.0,285.3 L244.2,287.1 L244.4,288.5 L244.6,289.3 L244.8,291.0 L245.0,292.5 L245.2,292.8 L245.4,293.6 L245.6,294.7 L245.8,295.6 L246.0,296.7 L246.2,297.5 L246.4,298.1 L246.6,299.0 L246.8,299.2 L247.0,299.9 L247.2,300.7 L247.4,301.0 L247.6,301.2 L247.8,301.5 L248.0,301.8 L248.2,302.0 L248.4,302.2 L248.6,302.3 L248.8,302.5 L249.0,302.5 L249.2,302.6 L249.4,302.7 L249.6,302.8 L249.8,302.8 L250.0,302.9 L250.2,302.9 L250.4,302.9 L250.6,303.0 L250.8,303.0 L251.0,303.0 L251.2,303.0 L251.4,303.0 L251.6,303.0 L251.8,303.0 L252.0,303.0 L252.2,303.0 L252.4,303.0 L252.6,303.0 L252.8,303.0 L253.0,303.0 L253.2,303.0 L253.4,303.0 L253.6,303.0 L253.8,303.0 L254.0,303.0 L254.2,303.0 L254.4,303.0 L254.6,303.0 L254.8,303.0 L255.0,303.0 L255.2,303.0 L255.4,303.0 L255.6,303.0 L255.8,303.0 L256.0,303.0 L256.2,303.0 L256.4,303.0 L256.6,303.0 L256.8,303.0 L257.0,303.0 L257.2,303.0 L257.4,303.0 L257.6,303.0 L257.8,303.0 L258.0,303.0 L258.2,303.0 L258.4,303.0 L258.6,303.0 L258.8,303.0 L259.0,303.0 L259.2,303.0 L259.4,303.0 L259.6,303.0 L259.8,303.0 L260.0,303.0 L260.2,303.0 L260.4,303.0 L260.6,303.0 L260.8,303.0 L261.0,303.0 L261.2,303.0 L261.4,303.0 L261.6,303.0 L261.8,303.0 L262.0,303.0 L262.2,303.0 L262.4,303.0 L262.6,303.0 L262.8,303.0 L263.0,303.0 L263.2,303.0 L263.4,303.0 L263.6,302.9 L263.8,303.0 L264.0,302.9 L264.2,302.9 L264.4,302.8 L264.6,302.7 L264.8,302.6 L265.0,302.6 L265.2,302.5 L265.4,302.4 L265.6,302.3 L265.8,302.1 L266.0,301.9 L266.2,301.8 L266.4,301.6 L266.6,301.2 L266.8,301.0 L267.0,300.8 L267.2,300.5 L267.4,300.2 L267.6,299.5 L267.8,299.2 L268.0,298.7 L268.2,298.3 L268.4,297.4 L268.6,297.3 L268.8,296.6 L269.0,296.0 L269.2,294.9 L269.4,294.4 L269.6,294.0 L269.8,292.3 L270.0,292.0 L270.2,291.3 L270.4,289.9 L270.6,289.7 L270.8,288.4 L271.0,288.3 L271.2,287.2 L271.4,286.2 L271.6,286.4 L271.8,285.0 L272.0,285.2 L272.2,282.2 L272.4,281.7 L272.6,281.9 L272.8,281.7 L273.0,279.6 L273.2,279.5 L273.4,276.5 L273.6,277.4 L273.8,275.4 L274.0,275.8 L274.2,274.2 L274.4,273.2 L274.6,273.0 L274.8,273.9 L275.0,270.4 L275.2,270.0 L275.4,271.0 L275.6,268.7 L275.8,270.4 L276.0,268.0 L276.2,267.1 L276.4,266.7 L276.6,267.7 L276.8,265.8 L277.0,265.0 L277.2,264.0 L277.4,261.1 L277.6,260.2 L277.8,263.6 L278.0,262.1 L278.2,261.1 L278.4,260.7 L278.6,258.5 L278.8,259.2 L279.0,257.0 L279.2,258.4 L279.4,256.4 L279.6,256.8 L279.8,257.4 L280.0,255.9 L280.2,257.1 L280.4,256.5 L280.6,256.1 L280.8,257.3 L281.0,252.9 L281.2,250.3 L281.4,255.6 L281.6,255.9 L281.8,257.4 L282.0,255.3 L282.2,255.3 L282.4,252.5 L282.6,254.9 L282.8,254.6 L283.0,251.8 L283.2,251.9 L283.4,253.0 L283.6,253.5 L283.8,248.3 L284.0,252.9 L284.2,253.1 L284.4,252.3 L284.6,252.9 L284.8,253.1 L285.0,250.7 L285.2,252.9 L285.4,251.7 L285.6,250.5 L285.8,252.3 L286.0,254.2 L286.2,249.4 L286.4,249.1 L286.6,249.0 L286.8,254.7 L287.0,251.1 L287.2,251.3 L287.4,250.1 L287.6,249.7 L287.8,247.9 L288.0,251.4 L288.2,251.4 L288.4,247.7 L288.6,249.2 L288.8,249.6 L289.0,250.7 L289.2,251.0 L289.4,252.4 L289.6,252.7 L289.8,252.1 L290.0,252.5 L290.2,248.3 L290.4,249.2 L290.6,252.0 L290.8,250.5 L291.0,250.0 L291.2,246.6 L291.4,246.7 L291.6,250.9 L291.8,250.2 L292.0,249.1 L292.2,248.8 L292.4,246.6 L292.6,250.0 L292.8,251.1 L293.0,252.0 L293.2,249.3 L293.4,248.8 L293.6,247.3 L293.8,251.1 L294.0,251.9 L294.2,247.9 L294.4,249.4 L294.6,249.0 L294.8,247.8 L295.0,244.5 L295.2,248.0 L295.4,249.6 L295.6,246.1 L295.8,247.1 L296.0,242.9 L296.2,250.6 L296.4,249.2 L296.6,248.4 L296.8,247.8 L297.0,247.1 L297.2,248.0 L297.4,247.6 L297.6,247.7 L297.8,248.0 L298.0,248.2 L298.2,250.6 L298.4,245.4 L298.6,248.4 L298.8,246.8 L299.0,245.9 L299.2,243.7 L299.4,248.8 L299.6,246.0 L299.8,246.4 L300.0,248.5 L300.2,245.8 L300.4,247.6 L300.6,247.4 L300.8,248.9 L301.0,249.3 L301.2,246.0 L301.4,249.1 L301.6,247.3 L301.8,247.6 L302.0,247.0 L302.2,248.7 L302.4,245.2 L302.6,247.8 L302.8,249.3 L303.0,246.8 L303.2,250.8 L303.4,245.9 L303.6,247.6 L303.8,246.3 L304.0,246.1 L304.2,245.2 L304.4,246.2 L304.6,247.0 L304.8,245.7 L305.0,248.6 L305.2,249.7 L305.4,244.3 L305.6,248.4 L305.8,247.3 L306.0,247.7 L306.2,251.2 L306.4,249.0 L306.6,247.5 L306.8,247.2 L307.0,243.0 L307.2,248.2 L307.4,245.5 L307.6,247.1 L307.8,246.9 L308.0,248.4 L308.2,250.3 L308.4,248.4 L308.6,248.9 L308.8,246.3 L309.0,247.5 L309.2,248.0 L309.4,244.1 L309.6,250.2 L309.8,245.3 L310.0,244.3 L310.2,249.4 L310.4,250.3 L310.6,245.3 L310.8,245.4 L311.0,252.0 L311.2,246.7 L311.4,242.9 L311.6,245.3 L311.8,250.0 L312.0,247.6 L312.2,247.7 L312.4,248.5 L312.6,247.5 L312.8,245.7 L313.0,243.5 L313.2,247.1 L313.4,244.3 L313.6,246.2 L313.8,252.2 L314.0,247.2 L314.2,246.3 L314.4,246.3 L314.6,247.5 L314.8,247.8 L315.0,243.8 L315.2,246.5 L315.4,249.2 L315.6,247.5 L315.8,244.7 L316.0,244.9 L316.2,242.4 L316.4,244.7 L316.6,248.9 L316.8,245.9 L317.0,244.5 L317.2,245.0 L317.4,245.8 L317.6,245.8 L317.8,245.3 L318.0,244.6 L318.2,247.1 L318.4,248.7 L318.6,244.9 L318.8,244.9 L319.0,248.0 L319.2,243.3 L319.4,244.8 L319.6,245.2 L319.8,246.1 L320.0,245.3 L320.2,244.2 L320.4,246.3 L320.6,241.7 L320.8,242.6 L321.0,242.1 L321.2,247.1 L321.4,242.6 L321.6,246.5 L321.8,246.9 L322.0,247.1 L322.2,245.4 L322.4,244.7 L322.6,245.8 L322.8,244.6 L323.0,243.3 L323.2,247.9 L323.4,244.0 L323.6,248.8 L323.6,246.5" fill="none" stroke="#ff0000" stroke-width="1.3" stroke-linejoin="miter" stroke-miterlimit="3" stroke-linecap="butt" />
</g>
<g id="axes-b">
<line x1="18.80" y1="244.30" x2="18.80" y2="304.00" stroke="#222" stroke-width="1"/>
<line x1="18.30" y1="303.50" x2="160.70" y2="303.50" stroke="#222" stroke-width="1"/>
<line x1="18.80" y1="303.00" x2="25.10" y2="303.00" stroke="#222" stroke-width="1"/>
<line x1="18.80" y1="296.06" x2="21.90" y2="296.06" stroke="#222" stroke-width="1"/>
<line x1="18.80" y1="289.12" x2="21.90" y2="289.12" stroke="#222" stroke-width="1"/>
<line x1="18.80" y1="282.18" x2="21.90" y2="282.18" stroke="#222" stroke-width="1"/>
<line x1="18.80" y1="275.24" x2="21.90" y2="275.24" stroke="#222" stroke-width="1"/>
<line x1="18.80" y1="268.30" x2="25.10" y2="268.30" stroke="#222" stroke-width="1"/>
<line x1="18.80" y1="261.36" x2="21.90" y2="261.36" stroke="#222" stroke-width="1"/>
<line x1="18.80" y1="254.42" x2="21.90" y2="254.42" stroke="#222" stroke-width="1"/>
<line x1="18.80" y1="247.48" x2="21.90" y2="247.48" stroke="#222" stroke-width="1"/>
<line x1="18.78" y1="303.50" x2="18.78" y2="306.80" stroke="#222" stroke-width="1"/>
<line x1="30.50" y1="303.50" x2="30.50" y2="309.90" stroke="#222" stroke-width="1"/>
<line x1="42.22" y1="303.50" x2="42.22" y2="306.80" stroke="#222" stroke-width="1"/>
<line x1="53.94" y1="303.50" x2="53.94" y2="309.90" stroke="#222" stroke-width="1"/>
<line x1="65.66" y1="303.50" x2="65.66" y2="306.80" stroke="#222" stroke-width="1"/>
<line x1="77.38" y1="303.50" x2="77.38" y2="309.90" stroke="#222" stroke-width="1"/>
<line x1="89.10" y1="303.50" x2="89.10" y2="306.80" stroke="#222" stroke-width="1"/>
<line x1="100.82" y1="303.50" x2="100.82" y2="309.90" stroke="#222" stroke-width="1"/>
<line x1="112.54" y1="303.50" x2="112.54" y2="306.80" stroke="#222" stroke-width="1"/>
<line x1="124.26" y1="303.50" x2="124.26" y2="309.90" stroke="#222" stroke-width="1"/>
<line x1="135.98" y1="303.50" x2="135.98" y2="306.80" stroke="#222" stroke-width="1"/>
<line x1="147.70" y1="303.50" x2="147.70" y2="309.90" stroke="#222" stroke-width="1"/>
<line x1="159.42" y1="303.50" x2="159.42" y2="306.80" stroke="#222" stroke-width="1"/>
<line x1="323.55" y1="244.90" x2="323.55" y2="304.00" stroke="#222" stroke-width="1"/>
<line x1="182.70" y1="303.50" x2="324.05" y2="303.50" stroke="#222" stroke-width="1"/>
<line x1="323.55" y1="245.40" x2="318.05" y2="245.40" stroke="#222" stroke-width="1"/>
<line x1="323.55" y1="257.02" x2="320.75" y2="257.02" stroke="#222" stroke-width="1"/>
<line x1="323.55" y1="268.64" x2="320.75" y2="268.64" stroke="#222" stroke-width="1"/>
<line x1="323.55" y1="280.26" x2="320.75" y2="280.26" stroke="#222" stroke-width="1"/>
<line x1="323.55" y1="291.88" x2="320.75" y2="291.88" stroke="#222" stroke-width="1"/>
<line x1="323.55" y1="303.50" x2="318.05" y2="303.50" stroke="#222" stroke-width="1"/>
<line x1="194.90" y1="303.50" x2="194.90" y2="306.80" stroke="#222" stroke-width="1"/>
<line x1="206.60" y1="303.50" x2="206.60" y2="309.90" stroke="#222" stroke-width="1"/>
<line x1="218.30" y1="303.50" x2="218.30" y2="306.80" stroke="#222" stroke-width="1"/>
<line x1="230.00" y1="303.50" x2="230.00" y2="309.90" stroke="#222" stroke-width="1"/>
<line x1="241.70" y1="303.50" x2="241.70" y2="306.80" stroke="#222" stroke-width="1"/>
<line x1="253.40" y1="303.50" x2="253.40" y2="309.90" stroke="#222" stroke-width="1"/>
<line x1="265.10" y1="303.50" x2="265.10" y2="306.80" stroke="#222" stroke-width="1"/>
<line x1="276.80" y1="303.50" x2="276.80" y2="309.90" stroke="#222" stroke-width="1"/>
<line x1="288.50" y1="303.50" x2="288.50" y2="306.80" stroke="#222" stroke-width="1"/>
<line x1="300.20" y1="303.50" x2="300.20" y2="309.90" stroke="#222" stroke-width="1"/>
<line x1="311.90" y1="303.50" x2="311.90" y2="306.80" stroke="#222" stroke-width="1"/>
<line x1="323.60" y1="303.50" x2="323.60" y2="309.90" stroke="#222" stroke-width="1"/>
</g>
<g id="labels">
<text x="13" y="10.4" text-anchor="middle" style="font-family:&quot;Liberation Serif&quot;,serif;font-size:11px;fill:#222" >1</text>
<text x="13.1" y="224.5" text-anchor="middle" style="font-family:&quot;Liberation Serif&quot;,serif;font-size:11.5px;fill:#222" >0</text>
<text x="329.9" y="11.7" text-anchor="middle" style="font-family:&quot;Liberation Serif&quot;,serif;font-size:11px;fill:#222" >1</text>
<text x="329.2" y="224.5" text-anchor="middle" style="font-family:&quot;Liberation Serif&quot;,serif;font-size:11.5px;fill:#222" >0</text>
<text x="160.9" y="36.4" text-anchor="start" style="font-family:&quot;Liberation Serif&quot;,serif;font-size:10px;fill:#000" >z=0</text>
<text x="154.3" y="129.8" style="font-family:&quot;Liberation Serif&quot;,serif;font-size:10px;fill:#0000ff">z=1<tspan style="font-family:&quot;Liberation Sans&quot;,sans-serif;font-size:9.4px" dx="2.9" textLength="18" lengthAdjust="spacingAndGlyphs">mm</tspan></text>
<text x="150.4" y="173.6" style="font-family:&quot;Liberation Serif&quot;,serif;font-size:10px;fill:#008a00">z=2.5<tspan style="font-family:&quot;Liberation Sans&quot;,sans-serif;font-size:9.4px" dx="2.9" textLength="18" lengthAdjust="spacingAndGlyphs">mm</tspan></text>
<text x="154.9" y="201.6" style="font-family:&quot;Liberation Serif&quot;,serif;font-size:10px;fill:#ff0000">z=5<tspan style="font-family:&quot;Liberation Sans&quot;,sans-serif;font-size:9.4px" dx="2.9" textLength="18" lengthAdjust="spacingAndGlyphs">mm</tspan></text>
<text transform="translate(27.4,9.8) scale(1.1,1)" x="0.19 4.66 11.95" y="0" style="font-family:&quot;Liberation Sans&quot;,sans-serif;font-size:12.6px;fill:#000">(a)</text>
<text transform="translate(22.8,251.6) scale(1.1,1)" x="0.19 4.79 12.21" y="0" style="font-family:&quot;Liberation Sans&quot;,sans-serif;font-size:12.6px;fill:#000">(b)</text>
<text transform="translate(9.6,197.3) rotate(-90) scale(1.1,1)" x="-0.57 7.02 13.84 20.54 27.02 31.06 35.30 42.18 45.09 48.68 51.63 58.91 62.72 69.53 76.17 82.21 85.53 89.55 95.86 99.38 103.50 110.44 114.79 121.67 125.14 128.65 135.56 142.56 145.87 149.51 155.49" y="0" style="font-family:&quot;Liberation Sans&quot;,sans-serif;font-size:12.1px;fill:#000">Spectral intensity (arb. units)</text>
<text x="30.5" y="320.4" text-anchor="middle" style="font-family:&quot;Liberation Sans&quot;,sans-serif;font-size:9.3px;fill:#111" >520</text>
<text x="53.9" y="320.4" text-anchor="middle" style="font-family:&quot;Liberation Sans&quot;,sans-serif;font-size:9.3px;fill:#111" >522</text>
<text x="77.4" y="320.4" text-anchor="middle" style="font-family:&quot;Liberation Sans&quot;,sans-serif;font-size:9.3px;fill:#111" >524</text>
<text x="100.8" y="320.4" text-anchor="middle" style="font-family:&quot;Liberation Sans&quot;,sans-serif;font-size:9.3px;fill:#111" >526</text>
<text x="124.3" y="320.4" text-anchor="middle" style="font-family:&quot;Liberation Sans&quot;,sans-serif;font-size:9.3px;fill:#111" >528</text>
<text x="147.7" y="320.4" text-anchor="middle" style="font-family:&quot;Liberation Sans&quot;,sans-serif;font-size:9.3px;fill:#111" >530</text>
<text x="181.2" y="320.4" text-anchor="middle" style="font-family:&quot;Liberation Sans&quot;,sans-serif;font-size:9.3px;fill:#111" >528</text>
<text x="206.6" y="320.4" text-anchor="middle" style="font-family:&quot;Liberation Sans&quot;,sans-serif;font-size:9.3px;fill:#111" >530</text>
<text x="230.0" y="320.4" text-anchor="middle" style="font-family:&quot;Liberation Sans&quot;,sans-serif;font-size:9.3px;fill:#111" >532</text>
<text x="253.4" y="320.4" text-anchor="middle" style="font-family:&quot;Liberation Sans&quot;,sans-serif;font-size:9.3px;fill:#111" >534</text>
<text x="276.8" y="320.4" text-anchor="middle" style="font-family:&quot;Liberation Sans&quot;,sans-serif;font-size:9.3px;fill:#111" >536</text>
<text x="300.2" y="320.4" text-anchor="middle" style="font-family:&quot;Liberation Sans&quot;,sans-serif;font-size:9.3px;fill:#111" >538</text>
<text x="324.6" y="320.4" text-anchor="middle" style="font-family:&quot;Liberation Sans&quot;,sans-serif;font-size:9.3px;fill:#111" >540</text>
<text x="16.9" y="305.9" text-anchor="end" style="font-family:&quot;Liberation Sans&quot;,sans-serif;font-size:8.7px;fill:#111" >0</text>
<text x="17.5" y="271.4" text-anchor="end" style="font-family:&quot;Liberation Sans&quot;,sans-serif;font-size:8.7px;fill:#111" >1</text>
<text x="327.2" y="248.2" text-anchor="start" style="font-family:&quot;Liberation Sans&quot;,sans-serif;font-size:8.7px;fill:#111" >0</text>
<text x="325.9" y="306.2" text-anchor="start" style="font-family:&quot;Liberation Sans&quot;,sans-serif;font-size:8.7px;fill:#111" >-1</text>
<text x="46.3" y="331.6" style="font-family:&quot;Liberation Sans&quot;,sans-serif;font-size:9px;fill:#111">Photon energy ω<tspan dy="2.3" style="font-size:5.2px">d</tspan><tspan dy="-2.3"> (eV)</tspan></text>
<text x="213.4" y="331.6" style="font-family:&quot;Liberation Sans&quot;,sans-serif;font-size:9px;fill:#111">Photon energy ω<tspan dy="1.8" style="font-size:5.2px">p</tspan><tspan dy="-1.8"> (eV)</tspan></text>
</g>
</svg>
</body>
</html>
